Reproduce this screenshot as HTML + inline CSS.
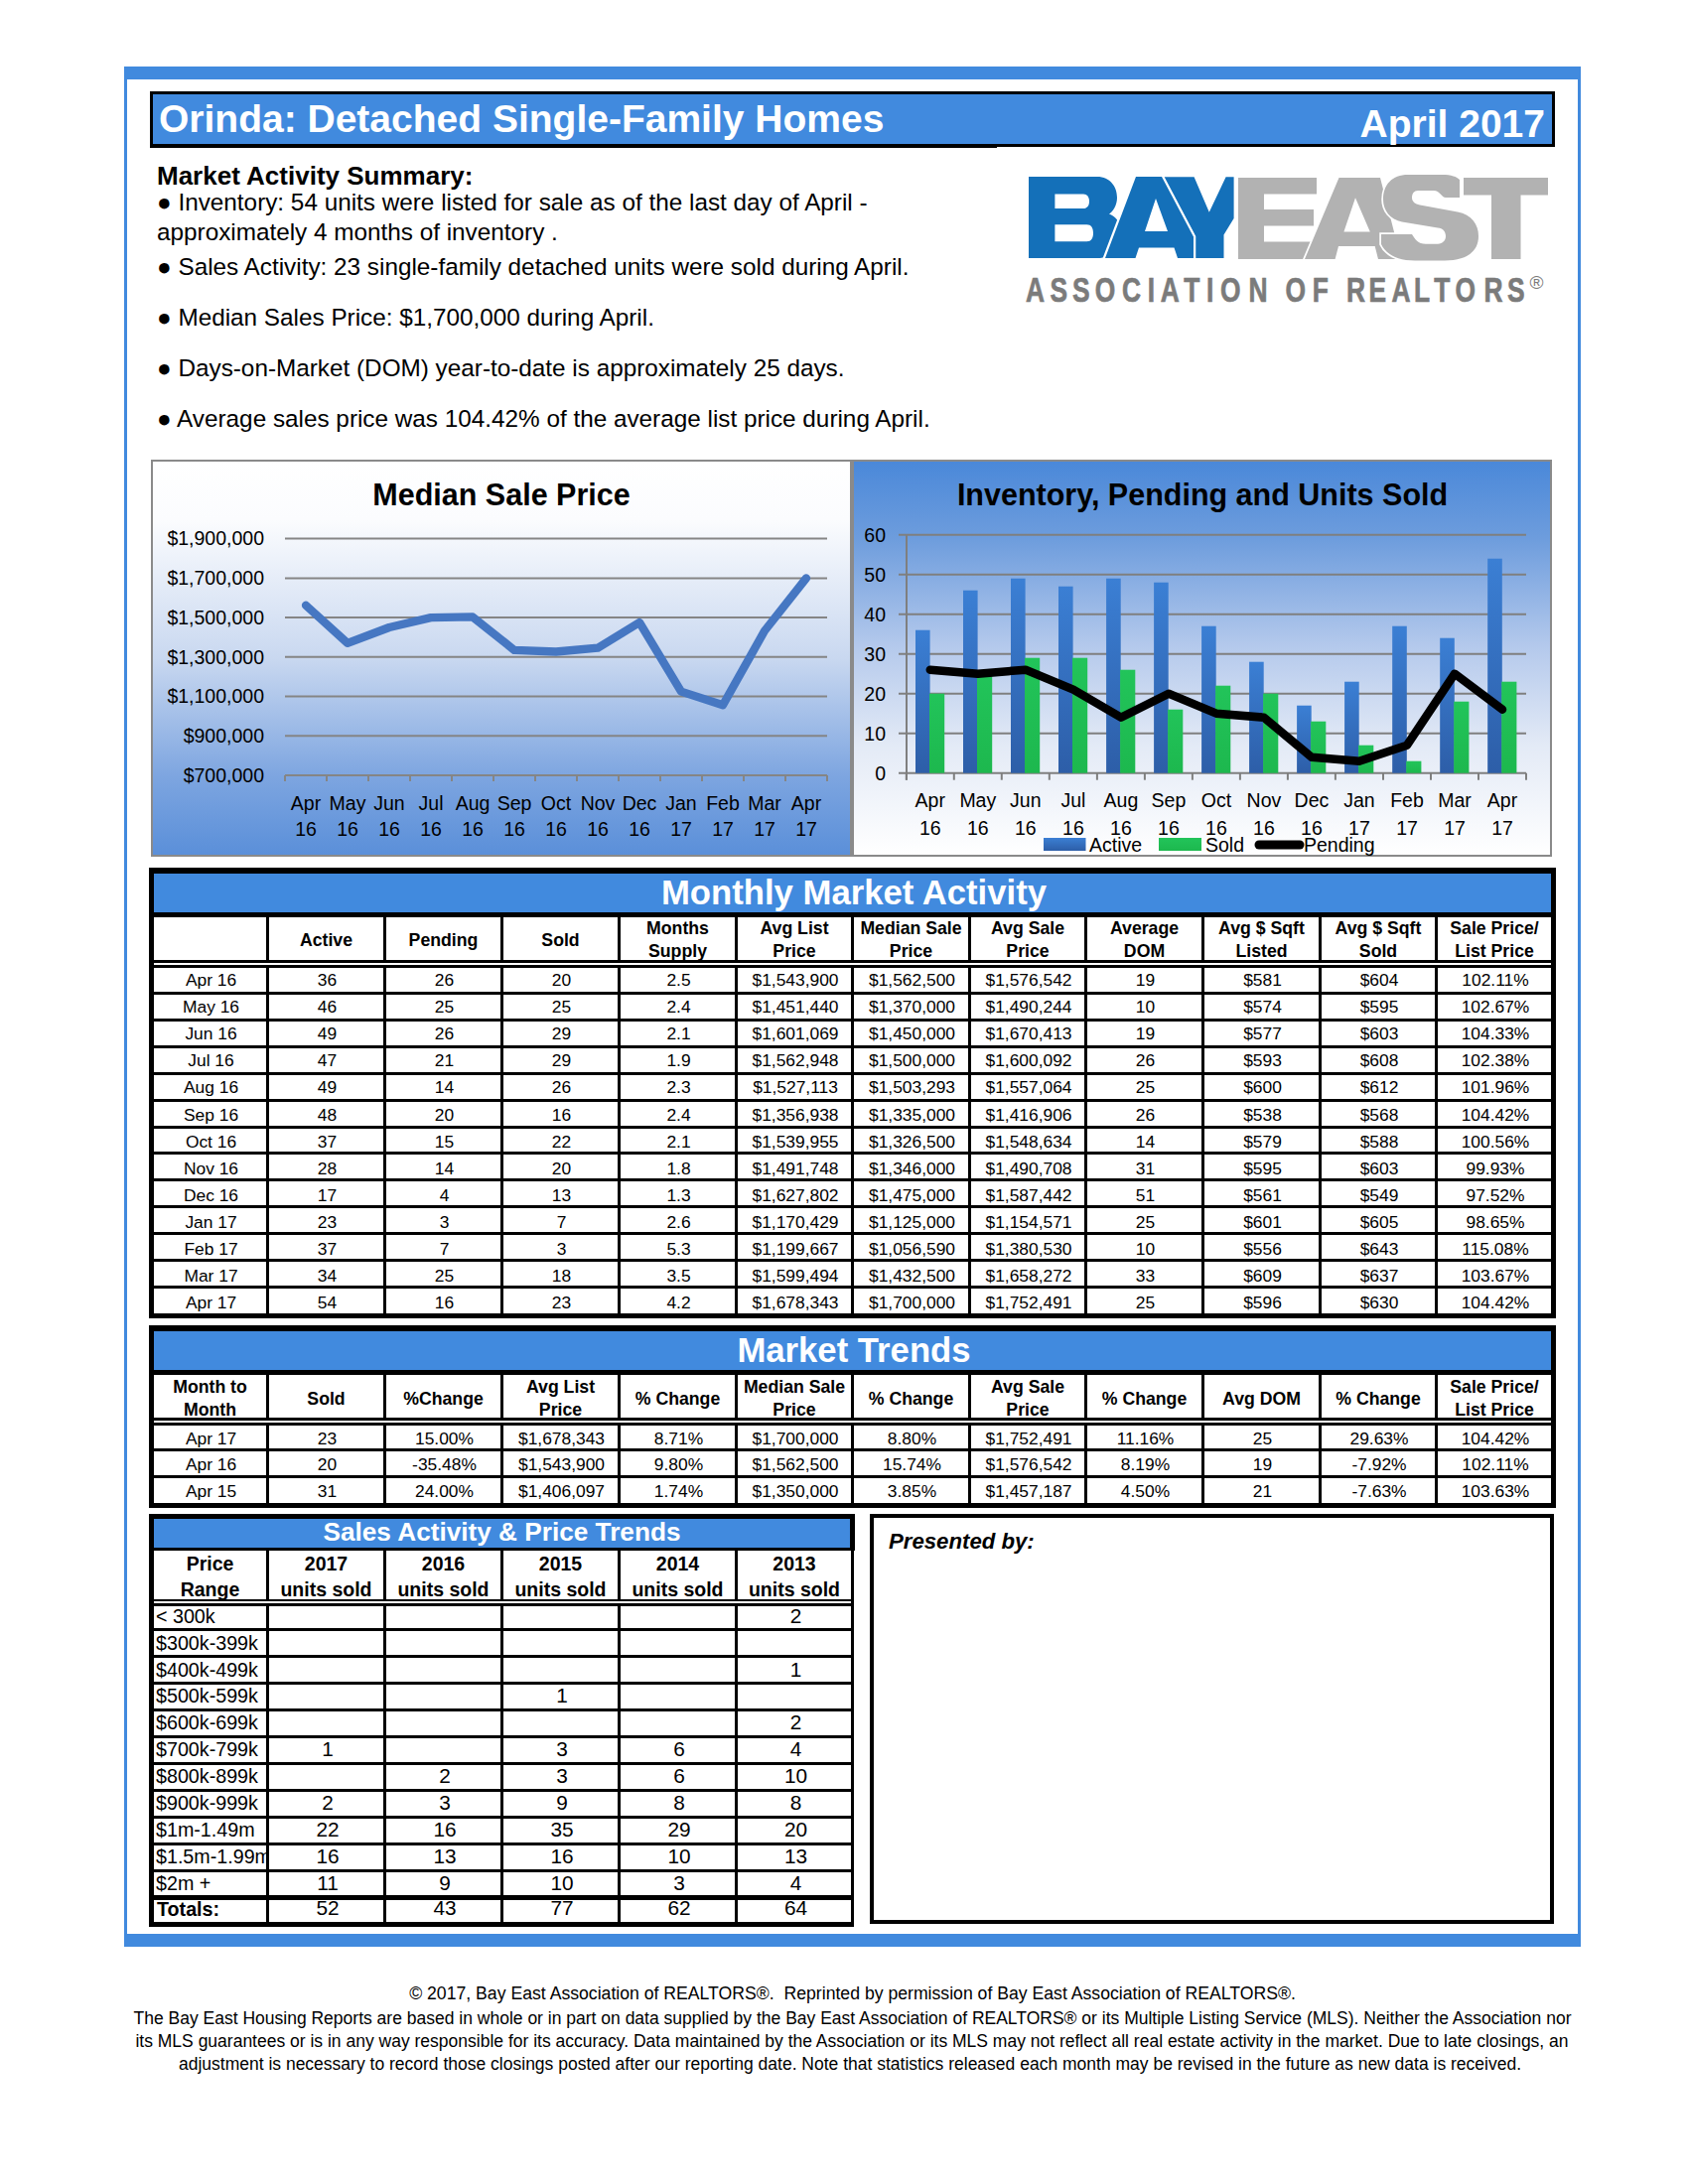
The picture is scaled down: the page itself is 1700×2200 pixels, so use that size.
<!DOCTYPE html><html><head><meta charset="utf-8"><title>Orinda: Detached Single-Family Homes - April 2017</title><style>html,body{margin:0;padding:0;background:#fff;}body{width:1700px;height:2200px;position:relative;overflow:hidden;font-family:"Liberation Sans",sans-serif;}</style></head><body>
<div style="position:absolute;left:125px;top:67px;width:1467px;height:13px;background:#418ade;"></div>
<div style="position:absolute;left:125px;top:1948px;width:1467px;height:13px;background:#418ade;"></div>
<div style="position:absolute;left:125px;top:67px;width:3px;height:1894px;background:#418ade;"></div>
<div style="position:absolute;left:1589px;top:67px;width:3px;height:1894px;background:#418ade;"></div>
<div style="position:absolute;left:151px;top:92px;width:1415px;height:56px;background:#000;"></div>
<div style="position:absolute;left:151px;top:145px;width:853px;height:4px;background:#000;"></div>
<div style="position:absolute;left:154px;top:95px;width:1409px;height:50px;background:#418ade;"></div>
<div style="position:absolute;left:160px;top:98.20px;font:normal bold 39px/44.811px 'Liberation Sans', sans-serif;color:#fff;white-space:pre;">Orinda: Detached Single-Family Homes</div>
<div style="position:absolute;left:-444px;width:2000px;text-align:right;top:103.20px;font:normal bold 39px/44.811px 'Liberation Sans', sans-serif;color:#fff;white-space:pre;">April 2017</div>
<div style="position:absolute;left:158px;top:162.97px;font:normal bold 26px/29.874px 'Liberation Sans', sans-serif;color:#000;white-space:pre;">Market Activity Summary:</div>
<div style="position:absolute;left:158px;top:190.01px;font:normal normal 24.3px/27.921px 'Liberation Sans', sans-serif;color:#000;white-space:pre;">● Inventory: 54 units were listed for sale as of the last day of April -</div>
<div style="position:absolute;left:158px;top:220.01px;font:normal normal 24.3px/27.921px 'Liberation Sans', sans-serif;color:#000;white-space:pre;">approximately 4 months of inventory .</div>
<div style="position:absolute;left:158px;top:255.01px;font:normal normal 24.3px/27.921px 'Liberation Sans', sans-serif;color:#000;white-space:pre;">● Sales Activity: 23 single-family detached units were sold during April.</div>
<div style="position:absolute;left:158px;top:306.01px;font:normal normal 24.3px/27.921px 'Liberation Sans', sans-serif;color:#000;white-space:pre;">● Median Sales Price: $1,700,000 during April.</div>
<div style="position:absolute;left:158px;top:357.01px;font:normal normal 24.3px/27.921px 'Liberation Sans', sans-serif;color:#000;white-space:pre;">● Days-on-Market (DOM) year-to-date is approximately 25 days.</div>
<div style="position:absolute;left:158px;top:408.01px;font:normal normal 24.3px/27.921px 'Liberation Sans', sans-serif;color:#000;white-space:pre;">● Average sales price was 104.42% of the average list price during April.</div>
<svg style="position:absolute;left:0;top:0" width="1700" height="320" viewBox="0 0 1700 320">
<path fill="#1470b9" fill-rule="evenodd" d="M1036,178 H1105 C1118,178 1125,188 1125,199 C1125,207 1121,213 1117,215.5 C1123,218 1128,223 1128,230 V243 C1128,254 1119,260 1105,260 H1036 Z M1062.4,195.4 H1091 C1095,195.4 1097,198.5 1097,202.7 C1097,207 1095,210 1091,210 H1062.4 Z M1062.4,226.2 H1094.5 C1099,226.2 1101,229.5 1101,234.7 C1101,240 1099,243.2 1094.5,243.2 H1062.4 Z"/>
<path fill="#1470b9" d="M1172,178.3 H1202.6 L1217.8,213.7 L1234.6,178.3 H1242.6 V220.1 L1232.5,236.6 V260 H1204 V238.5 Z"/>
<path fill="#1470b9" fill-rule="evenodd" stroke="#fff" stroke-width="4.5" paint-order="stroke" d="M1113,260 L1144,178 L1170,178 L1202,238.5 L1202,260 L1186,260 L1182.5,249.5 L1147,249.5 L1143.5,260 Z M1164,200 L1153,233 L1176,233 Z"/>
<path fill="#b2b2b2" d="M1247,179 H1326 V195.5 H1273 V211 H1323 V227.5 H1273 V243.5 H1330 V261 H1247 Z"/>
<path fill="#b2b2b2" fill-rule="evenodd" stroke="#fff" stroke-width="3.5" paint-order="stroke" d="M1314,261 L1348.5,179 L1390,179 L1411,261 L1388,261 L1384.7,248 L1348,248 L1344.6,261 Z M1365,199.3 L1353.4,233.5 L1379.8,233.5 Z"/>
<path fill="#b2b2b2" fill-rule="evenodd" stroke="#fff" stroke-width="3.5" paint-order="stroke" d="M1418,176 H1452 C1462,176 1467,178 1470,181 V199 H1456 C1452,199 1450,192 1444,192 H1428 C1424,192 1422,195 1422,199 C1422,203 1425,205.5 1430,206.5 L1468,213.5 C1482,216 1489,226 1489,238 C1489,254 1476,262.5 1455,262.5 H1425 C1406,262.5 1395,255 1391,246 V236 H1422 C1425,241 1428,245.7 1436,245.7 H1448 C1453,245.7 1456,242 1456,238 C1456,233 1453,230 1448,229.5 L1412,223.5 C1400,221 1393,212 1393,201 C1393,186 1402,176 1418,176 Z"/>
<path fill="#b2b2b2" d="M1474,179 H1559 V196.5 H1531.5 V261 H1502 V196.5 H1474 Z"/>
<text transform="translate(1042.4,303.5) scale(0.76,1)" text-anchor="middle" font-family="Liberation Sans" font-weight="bold" font-size="34.7" fill="#7b7b7b" stroke="#7b7b7b" stroke-width="0.7">A</text>
<text transform="translate(1066.2,303.5) scale(0.76,1)" text-anchor="middle" font-family="Liberation Sans" font-weight="bold" font-size="34.7" fill="#7b7b7b" stroke="#7b7b7b" stroke-width="0.7">S</text>
<text transform="translate(1088.9,303.5) scale(0.76,1)" text-anchor="middle" font-family="Liberation Sans" font-weight="bold" font-size="34.7" fill="#7b7b7b" stroke="#7b7b7b" stroke-width="0.7">S</text>
<text transform="translate(1112.9,303.5) scale(0.76,1)" text-anchor="middle" font-family="Liberation Sans" font-weight="bold" font-size="34.7" fill="#7b7b7b" stroke="#7b7b7b" stroke-width="0.7">O</text>
<text transform="translate(1139.5,303.5) scale(0.76,1)" text-anchor="middle" font-family="Liberation Sans" font-weight="bold" font-size="34.7" fill="#7b7b7b" stroke="#7b7b7b" stroke-width="0.7">C</text>
<text transform="translate(1159.5,303.5) scale(0.76,1)" text-anchor="middle" font-family="Liberation Sans" font-weight="bold" font-size="34.7" fill="#7b7b7b" stroke="#7b7b7b" stroke-width="0.7">I</text>
<text transform="translate(1178.2,303.5) scale(0.76,1)" text-anchor="middle" font-family="Liberation Sans" font-weight="bold" font-size="34.7" fill="#7b7b7b" stroke="#7b7b7b" stroke-width="0.7">A</text>
<text transform="translate(1200.2,303.5) scale(0.76,1)" text-anchor="middle" font-family="Liberation Sans" font-weight="bold" font-size="34.7" fill="#7b7b7b" stroke="#7b7b7b" stroke-width="0.7">T</text>
<text transform="translate(1218.7,303.5) scale(0.76,1)" text-anchor="middle" font-family="Liberation Sans" font-weight="bold" font-size="34.7" fill="#7b7b7b" stroke="#7b7b7b" stroke-width="0.7">I</text>
<text transform="translate(1239.3,303.5) scale(0.76,1)" text-anchor="middle" font-family="Liberation Sans" font-weight="bold" font-size="34.7" fill="#7b7b7b" stroke="#7b7b7b" stroke-width="0.7">O</text>
<text transform="translate(1267,303.5) scale(0.76,1)" text-anchor="middle" font-family="Liberation Sans" font-weight="bold" font-size="34.7" fill="#7b7b7b" stroke="#7b7b7b" stroke-width="0.7">N</text>
<text transform="translate(1304.7,303.5) scale(0.76,1)" text-anchor="middle" font-family="Liberation Sans" font-weight="bold" font-size="34.7" fill="#7b7b7b" stroke="#7b7b7b" stroke-width="0.7">O</text>
<text transform="translate(1329.9,303.5) scale(0.76,1)" text-anchor="middle" font-family="Liberation Sans" font-weight="bold" font-size="34.7" fill="#7b7b7b" stroke="#7b7b7b" stroke-width="0.7">F</text>
<text transform="translate(1365.4,303.5) scale(0.76,1)" text-anchor="middle" font-family="Liberation Sans" font-weight="bold" font-size="34.7" fill="#7b7b7b" stroke="#7b7b7b" stroke-width="0.7">R</text>
<text transform="translate(1387.4,303.5) scale(0.76,1)" text-anchor="middle" font-family="Liberation Sans" font-weight="bold" font-size="34.7" fill="#7b7b7b" stroke="#7b7b7b" stroke-width="0.7">E</text>
<text transform="translate(1411,303.5) scale(0.76,1)" text-anchor="middle" font-family="Liberation Sans" font-weight="bold" font-size="34.7" fill="#7b7b7b" stroke="#7b7b7b" stroke-width="0.7">A</text>
<text transform="translate(1432.1,303.5) scale(0.76,1)" text-anchor="middle" font-family="Liberation Sans" font-weight="bold" font-size="34.7" fill="#7b7b7b" stroke="#7b7b7b" stroke-width="0.7">L</text>
<text transform="translate(1452.2,303.5) scale(0.76,1)" text-anchor="middle" font-family="Liberation Sans" font-weight="bold" font-size="34.7" fill="#7b7b7b" stroke="#7b7b7b" stroke-width="0.7">T</text>
<text transform="translate(1475.8,303.5) scale(0.76,1)" text-anchor="middle" font-family="Liberation Sans" font-weight="bold" font-size="34.7" fill="#7b7b7b" stroke="#7b7b7b" stroke-width="0.7">O</text>
<text transform="translate(1503.9,303.5) scale(0.76,1)" text-anchor="middle" font-family="Liberation Sans" font-weight="bold" font-size="34.7" fill="#7b7b7b" stroke="#7b7b7b" stroke-width="0.7">R</text>
<text transform="translate(1526.7,303.5) scale(0.76,1)" text-anchor="middle" font-family="Liberation Sans" font-weight="bold" font-size="34.7" fill="#7b7b7b" stroke="#7b7b7b" stroke-width="0.7">S</text>
<text x="1547.5" y="291" text-anchor="middle" font-family="Liberation Sans" font-size="19" fill="#7b7b7b">®</text>
</svg>
<svg style="position:absolute;left:0;top:0" width="1700" height="880" viewBox="0 0 1700 880">
<defs><linearGradient id="g1" x1="0" y1="0" x2="0" y2="1"><stop offset="0" stop-color="#ffffff"/><stop offset="0.15" stop-color="#fbfcfe"/><stop offset="0.5" stop-color="#c9d8f0"/><stop offset="0.8" stop-color="#7da5e0"/><stop offset="1" stop-color="#5a8fd9"/></linearGradient><linearGradient id="g2" x1="0" y1="0" x2="0" y2="1"><stop offset="0" stop-color="#4a88d9"/><stop offset="0.2" stop-color="#6e9ddd"/><stop offset="0.47" stop-color="#b4c9ec"/><stop offset="0.72" stop-color="#e3eaf6"/><stop offset="1" stop-color="#ffffff"/></linearGradient><linearGradient id="ga" x1="0" y1="0" x2="0" y2="1"><stop offset="0" stop-color="#3b7fd4"/><stop offset="1" stop-color="#2d5ea8"/></linearGradient><linearGradient id="gs" x1="0" y1="0" x2="0" y2="1"><stop offset="0" stop-color="#22c45a"/><stop offset="1" stop-color="#1db84e"/></linearGradient></defs>
<rect x="153" y="464" width="704" height="398" fill="url(#g1)" stroke="#8a8a8a" stroke-width="2"/>
<rect x="859" y="464" width="703" height="398" fill="url(#g2)" stroke="#8a8a8a" stroke-width="2"/>
<line x1="287" y1="781.0" x2="833" y2="781.0" stroke="#858585" stroke-width="2"/>
<text x="266" y="787.8" text-anchor="end" font-family="Liberation Sans" font-size="19.5" fill="#000">$700,000</text>
<line x1="287" y1="741.3" x2="833" y2="741.3" stroke="#858585" stroke-width="2"/>
<text x="266" y="748.1" text-anchor="end" font-family="Liberation Sans" font-size="19.5" fill="#000">$900,000</text>
<line x1="287" y1="701.5" x2="833" y2="701.5" stroke="#858585" stroke-width="2"/>
<text x="266" y="708.3" text-anchor="end" font-family="Liberation Sans" font-size="19.5" fill="#000">$1,100,000</text>
<line x1="287" y1="661.8" x2="833" y2="661.8" stroke="#858585" stroke-width="2"/>
<text x="266" y="668.6" text-anchor="end" font-family="Liberation Sans" font-size="19.5" fill="#000">$1,300,000</text>
<line x1="287" y1="622.1" x2="833" y2="622.1" stroke="#858585" stroke-width="2"/>
<text x="266" y="628.9" text-anchor="end" font-family="Liberation Sans" font-size="19.5" fill="#000">$1,500,000</text>
<line x1="287" y1="582.4" x2="833" y2="582.4" stroke="#858585" stroke-width="2"/>
<text x="266" y="589.1" text-anchor="end" font-family="Liberation Sans" font-size="19.5" fill="#000">$1,700,000</text>
<line x1="287" y1="542.6" x2="833" y2="542.6" stroke="#858585" stroke-width="2"/>
<text x="266" y="549.4" text-anchor="end" font-family="Liberation Sans" font-size="19.5" fill="#000">$1,900,000</text>
<line x1="287.0" y1="781.0" x2="287.0" y2="787.0" stroke="#858585" stroke-width="2"/>
<line x1="329.0" y1="781.0" x2="329.0" y2="787.0" stroke="#858585" stroke-width="2"/>
<line x1="371.0" y1="781.0" x2="371.0" y2="787.0" stroke="#858585" stroke-width="2"/>
<line x1="413.0" y1="781.0" x2="413.0" y2="787.0" stroke="#858585" stroke-width="2"/>
<line x1="455.0" y1="781.0" x2="455.0" y2="787.0" stroke="#858585" stroke-width="2"/>
<line x1="497.0" y1="781.0" x2="497.0" y2="787.0" stroke="#858585" stroke-width="2"/>
<line x1="539.0" y1="781.0" x2="539.0" y2="787.0" stroke="#858585" stroke-width="2"/>
<line x1="581.0" y1="781.0" x2="581.0" y2="787.0" stroke="#858585" stroke-width="2"/>
<line x1="623.0" y1="781.0" x2="623.0" y2="787.0" stroke="#858585" stroke-width="2"/>
<line x1="665.0" y1="781.0" x2="665.0" y2="787.0" stroke="#858585" stroke-width="2"/>
<line x1="707.0" y1="781.0" x2="707.0" y2="787.0" stroke="#858585" stroke-width="2"/>
<line x1="749.0" y1="781.0" x2="749.0" y2="787.0" stroke="#858585" stroke-width="2"/>
<line x1="791.0" y1="781.0" x2="791.0" y2="787.0" stroke="#858585" stroke-width="2"/>
<line x1="833.0" y1="781.0" x2="833.0" y2="787.0" stroke="#858585" stroke-width="2"/>
<text x="308.0" y="815.5" text-anchor="middle" font-family="Liberation Sans" font-size="19.5" fill="#000">Apr</text>
<text x="308.0" y="842" text-anchor="middle" font-family="Liberation Sans" font-size="19.5" fill="#000">16</text>
<text x="350.0" y="815.5" text-anchor="middle" font-family="Liberation Sans" font-size="19.5" fill="#000">May</text>
<text x="350.0" y="842" text-anchor="middle" font-family="Liberation Sans" font-size="19.5" fill="#000">16</text>
<text x="392.0" y="815.5" text-anchor="middle" font-family="Liberation Sans" font-size="19.5" fill="#000">Jun</text>
<text x="392.0" y="842" text-anchor="middle" font-family="Liberation Sans" font-size="19.5" fill="#000">16</text>
<text x="434.0" y="815.5" text-anchor="middle" font-family="Liberation Sans" font-size="19.5" fill="#000">Jul</text>
<text x="434.0" y="842" text-anchor="middle" font-family="Liberation Sans" font-size="19.5" fill="#000">16</text>
<text x="476.0" y="815.5" text-anchor="middle" font-family="Liberation Sans" font-size="19.5" fill="#000">Aug</text>
<text x="476.0" y="842" text-anchor="middle" font-family="Liberation Sans" font-size="19.5" fill="#000">16</text>
<text x="518.0" y="815.5" text-anchor="middle" font-family="Liberation Sans" font-size="19.5" fill="#000">Sep</text>
<text x="518.0" y="842" text-anchor="middle" font-family="Liberation Sans" font-size="19.5" fill="#000">16</text>
<text x="560.0" y="815.5" text-anchor="middle" font-family="Liberation Sans" font-size="19.5" fill="#000">Oct</text>
<text x="560.0" y="842" text-anchor="middle" font-family="Liberation Sans" font-size="19.5" fill="#000">16</text>
<text x="602.0" y="815.5" text-anchor="middle" font-family="Liberation Sans" font-size="19.5" fill="#000">Nov</text>
<text x="602.0" y="842" text-anchor="middle" font-family="Liberation Sans" font-size="19.5" fill="#000">16</text>
<text x="644.0" y="815.5" text-anchor="middle" font-family="Liberation Sans" font-size="19.5" fill="#000">Dec</text>
<text x="644.0" y="842" text-anchor="middle" font-family="Liberation Sans" font-size="19.5" fill="#000">16</text>
<text x="686.0" y="815.5" text-anchor="middle" font-family="Liberation Sans" font-size="19.5" fill="#000">Jan</text>
<text x="686.0" y="842" text-anchor="middle" font-family="Liberation Sans" font-size="19.5" fill="#000">17</text>
<text x="728.0" y="815.5" text-anchor="middle" font-family="Liberation Sans" font-size="19.5" fill="#000">Feb</text>
<text x="728.0" y="842" text-anchor="middle" font-family="Liberation Sans" font-size="19.5" fill="#000">17</text>
<text x="770.0" y="815.5" text-anchor="middle" font-family="Liberation Sans" font-size="19.5" fill="#000">Mar</text>
<text x="770.0" y="842" text-anchor="middle" font-family="Liberation Sans" font-size="19.5" fill="#000">17</text>
<text x="812.0" y="815.5" text-anchor="middle" font-family="Liberation Sans" font-size="19.5" fill="#000">Apr</text>
<text x="812.0" y="842" text-anchor="middle" font-family="Liberation Sans" font-size="19.5" fill="#000">17</text>
<polyline points="308.0,609.7 350.0,647.9 392.0,632.0 434.0,622.1 476.0,621.4 518.0,654.9 560.0,656.5 602.0,652.7 644.0,627.0 686.0,696.6 728.0,710.2 770.0,635.5 812.0,582.4" fill="none" stroke="#4677c2" stroke-width="8.3" stroke-linejoin="round" stroke-linecap="round"/>
<text x="505" y="509" text-anchor="middle" font-family="Liberation Sans" font-weight="bold" font-size="30.5" fill="#000">Median Sale Price</text>
<line x1="905" y1="778.7" x2="1537" y2="778.7" stroke="#7f7f7f" stroke-width="2"/>
<text x="892" y="785.5" text-anchor="end" font-family="Liberation Sans" font-size="19.5" fill="#000">0</text>
<line x1="905" y1="738.7" x2="1537" y2="738.7" stroke="#7f7f7f" stroke-width="2"/>
<text x="892" y="745.5" text-anchor="end" font-family="Liberation Sans" font-size="19.5" fill="#000">10</text>
<line x1="905" y1="698.7" x2="1537" y2="698.7" stroke="#7f7f7f" stroke-width="2"/>
<text x="892" y="705.5" text-anchor="end" font-family="Liberation Sans" font-size="19.5" fill="#000">20</text>
<line x1="905" y1="658.7" x2="1537" y2="658.7" stroke="#7f7f7f" stroke-width="2"/>
<text x="892" y="665.5" text-anchor="end" font-family="Liberation Sans" font-size="19.5" fill="#000">30</text>
<line x1="905" y1="618.7" x2="1537" y2="618.7" stroke="#7f7f7f" stroke-width="2"/>
<text x="892" y="625.5" text-anchor="end" font-family="Liberation Sans" font-size="19.5" fill="#000">40</text>
<line x1="905" y1="578.7" x2="1537" y2="578.7" stroke="#7f7f7f" stroke-width="2"/>
<text x="892" y="585.5" text-anchor="end" font-family="Liberation Sans" font-size="19.5" fill="#000">50</text>
<line x1="905" y1="538.7" x2="1537" y2="538.7" stroke="#7f7f7f" stroke-width="2"/>
<text x="892" y="545.5" text-anchor="end" font-family="Liberation Sans" font-size="19.5" fill="#000">60</text>
<line x1="913" y1="538" x2="913" y2="785.7" stroke="#7f7f7f" stroke-width="2"/>
<line x1="912.8" y1="778.7" x2="912.8" y2="785.7" stroke="#7f7f7f" stroke-width="2"/>
<line x1="960.8" y1="778.7" x2="960.8" y2="785.7" stroke="#7f7f7f" stroke-width="2"/>
<line x1="1008.8" y1="778.7" x2="1008.8" y2="785.7" stroke="#7f7f7f" stroke-width="2"/>
<line x1="1056.8" y1="778.7" x2="1056.8" y2="785.7" stroke="#7f7f7f" stroke-width="2"/>
<line x1="1104.9" y1="778.7" x2="1104.9" y2="785.7" stroke="#7f7f7f" stroke-width="2"/>
<line x1="1152.9" y1="778.7" x2="1152.9" y2="785.7" stroke="#7f7f7f" stroke-width="2"/>
<line x1="1200.9" y1="778.7" x2="1200.9" y2="785.7" stroke="#7f7f7f" stroke-width="2"/>
<line x1="1248.9" y1="778.7" x2="1248.9" y2="785.7" stroke="#7f7f7f" stroke-width="2"/>
<line x1="1296.9" y1="778.7" x2="1296.9" y2="785.7" stroke="#7f7f7f" stroke-width="2"/>
<line x1="1344.9" y1="778.7" x2="1344.9" y2="785.7" stroke="#7f7f7f" stroke-width="2"/>
<line x1="1393.0" y1="778.7" x2="1393.0" y2="785.7" stroke="#7f7f7f" stroke-width="2"/>
<line x1="1441.0" y1="778.7" x2="1441.0" y2="785.7" stroke="#7f7f7f" stroke-width="2"/>
<line x1="1489.0" y1="778.7" x2="1489.0" y2="785.7" stroke="#7f7f7f" stroke-width="2"/>
<line x1="1537.0" y1="778.7" x2="1537.0" y2="785.7" stroke="#7f7f7f" stroke-width="2"/>
<rect x="922.0" y="634.7" width="14.6" height="144.0" fill="url(#ga)"/>
<rect x="936.0" y="698.7" width="15.2" height="80.0" fill="url(#gs)"/>
<text x="936.8" y="813" text-anchor="middle" font-family="Liberation Sans" font-size="19.5" fill="#000">Apr</text>
<text x="936.8" y="840.5" text-anchor="middle" font-family="Liberation Sans" font-size="19.5" fill="#000">16</text>
<rect x="970.0" y="594.7" width="14.6" height="184.0" fill="url(#ga)"/>
<rect x="984.0" y="678.7" width="15.2" height="100.0" fill="url(#gs)"/>
<text x="984.8" y="813" text-anchor="middle" font-family="Liberation Sans" font-size="19.5" fill="#000">May</text>
<text x="984.8" y="840.5" text-anchor="middle" font-family="Liberation Sans" font-size="19.5" fill="#000">16</text>
<rect x="1018.0" y="582.7" width="14.6" height="196.0" fill="url(#ga)"/>
<rect x="1032.0" y="662.7" width="15.2" height="116.0" fill="url(#gs)"/>
<text x="1032.8" y="813" text-anchor="middle" font-family="Liberation Sans" font-size="19.5" fill="#000">Jun</text>
<text x="1032.8" y="840.5" text-anchor="middle" font-family="Liberation Sans" font-size="19.5" fill="#000">16</text>
<rect x="1066.0" y="590.7" width="14.6" height="188.0" fill="url(#ga)"/>
<rect x="1080.0" y="662.7" width="15.2" height="116.0" fill="url(#gs)"/>
<text x="1080.9" y="813" text-anchor="middle" font-family="Liberation Sans" font-size="19.5" fill="#000">Jul</text>
<text x="1080.9" y="840.5" text-anchor="middle" font-family="Liberation Sans" font-size="19.5" fill="#000">16</text>
<rect x="1114.1" y="582.7" width="14.6" height="196.0" fill="url(#ga)"/>
<rect x="1128.1" y="674.7" width="15.2" height="104.0" fill="url(#gs)"/>
<text x="1128.9" y="813" text-anchor="middle" font-family="Liberation Sans" font-size="19.5" fill="#000">Aug</text>
<text x="1128.9" y="840.5" text-anchor="middle" font-family="Liberation Sans" font-size="19.5" fill="#000">16</text>
<rect x="1162.1" y="586.7" width="14.6" height="192.0" fill="url(#ga)"/>
<rect x="1176.1" y="714.7" width="15.2" height="64.0" fill="url(#gs)"/>
<text x="1176.9" y="813" text-anchor="middle" font-family="Liberation Sans" font-size="19.5" fill="#000">Sep</text>
<text x="1176.9" y="840.5" text-anchor="middle" font-family="Liberation Sans" font-size="19.5" fill="#000">16</text>
<rect x="1210.1" y="630.7" width="14.6" height="148.0" fill="url(#ga)"/>
<rect x="1224.1" y="690.7" width="15.2" height="88.0" fill="url(#gs)"/>
<text x="1224.9" y="813" text-anchor="middle" font-family="Liberation Sans" font-size="19.5" fill="#000">Oct</text>
<text x="1224.9" y="840.5" text-anchor="middle" font-family="Liberation Sans" font-size="19.5" fill="#000">16</text>
<rect x="1258.1" y="666.7" width="14.6" height="112.0" fill="url(#ga)"/>
<rect x="1272.1" y="698.7" width="15.2" height="80.0" fill="url(#gs)"/>
<text x="1272.9" y="813" text-anchor="middle" font-family="Liberation Sans" font-size="19.5" fill="#000">Nov</text>
<text x="1272.9" y="840.5" text-anchor="middle" font-family="Liberation Sans" font-size="19.5" fill="#000">16</text>
<rect x="1306.1" y="710.7" width="14.6" height="68.0" fill="url(#ga)"/>
<rect x="1320.1" y="726.7" width="15.2" height="52.0" fill="url(#gs)"/>
<text x="1320.9" y="813" text-anchor="middle" font-family="Liberation Sans" font-size="19.5" fill="#000">Dec</text>
<text x="1320.9" y="840.5" text-anchor="middle" font-family="Liberation Sans" font-size="19.5" fill="#000">16</text>
<rect x="1354.1" y="686.7" width="14.6" height="92.0" fill="url(#ga)"/>
<rect x="1368.1" y="750.7" width="15.2" height="28.0" fill="url(#gs)"/>
<text x="1368.9" y="813" text-anchor="middle" font-family="Liberation Sans" font-size="19.5" fill="#000">Jan</text>
<text x="1368.9" y="840.5" text-anchor="middle" font-family="Liberation Sans" font-size="19.5" fill="#000">17</text>
<rect x="1402.2" y="630.7" width="14.6" height="148.0" fill="url(#ga)"/>
<rect x="1416.2" y="766.7" width="15.2" height="12.0" fill="url(#gs)"/>
<text x="1417.0" y="813" text-anchor="middle" font-family="Liberation Sans" font-size="19.5" fill="#000">Feb</text>
<text x="1417.0" y="840.5" text-anchor="middle" font-family="Liberation Sans" font-size="19.5" fill="#000">17</text>
<rect x="1450.2" y="642.7" width="14.6" height="136.0" fill="url(#ga)"/>
<rect x="1464.2" y="706.7" width="15.2" height="72.0" fill="url(#gs)"/>
<text x="1465.0" y="813" text-anchor="middle" font-family="Liberation Sans" font-size="19.5" fill="#000">Mar</text>
<text x="1465.0" y="840.5" text-anchor="middle" font-family="Liberation Sans" font-size="19.5" fill="#000">17</text>
<rect x="1498.2" y="562.7" width="14.6" height="216.0" fill="url(#ga)"/>
<rect x="1512.2" y="686.7" width="15.2" height="92.0" fill="url(#gs)"/>
<text x="1513.0" y="813" text-anchor="middle" font-family="Liberation Sans" font-size="19.5" fill="#000">Apr</text>
<text x="1513.0" y="840.5" text-anchor="middle" font-family="Liberation Sans" font-size="19.5" fill="#000">17</text>
<polyline points="936.8,674.7 984.8,678.7 1032.8,674.7 1080.9,694.7 1128.9,722.7 1176.9,698.7 1224.9,718.7 1272.9,722.7 1320.9,762.7 1368.9,766.7 1417.0,750.7 1465.0,678.7 1513.0,714.7" fill="none" stroke="#000" stroke-width="8.5" stroke-linejoin="round" stroke-linecap="round"/>
<text x="1211" y="508.5" text-anchor="middle" font-family="Liberation Sans" font-weight="bold" font-size="30.5" fill="#000">Inventory, Pending and Units Sold</text>
<rect x="1051" y="844" width="42.5" height="13" fill="url(#ga)"/>
<text x="1097" y="858" font-family="Liberation Sans" font-size="19.5" fill="#000">Active</text>
<rect x="1167" y="844" width="43" height="13" fill="url(#gs)"/>
<text x="1214" y="858" font-family="Liberation Sans" font-size="19.5" fill="#000">Sold</text>
<line x1="1268" y1="851" x2="1309" y2="851" stroke="#000" stroke-width="9" stroke-linecap="round"/>
<text x="1313" y="858" font-family="Liberation Sans" font-size="19.5" fill="#000">Pending</text>
</svg>
<div style="position:absolute;left:150px;top:874px;width:1417px;height:454px;background:#000;"></div>
<div style="position:absolute;left:155px;top:880px;width:1407px;height:39px;background:#418ade;"></div>
<div style="position:absolute;left:-140px;width:2000px;text-align:center;top:879.60px;font:normal bold 34.7px/39.870px 'Liberation Sans', sans-serif;color:#fff;white-space:pre;">Monthly Market Activity</div>
<div style="position:absolute;left:155px;top:924px;width:113px;height:43px;background:#fff;"></div>
<div style="position:absolute;left:-788.5px;width:2000px;text-align:center;top:924.98px;font:normal bold 17.7px/20.337px 'Liberation Sans', sans-serif;color:#000;white-space:pre;"></div>
<div style="position:absolute;left:-788.5px;width:2000px;text-align:center;top:948.28px;font:normal bold 17.7px/20.337px 'Liberation Sans', sans-serif;color:#000;white-space:pre;"></div>
<div style="position:absolute;left:271px;top:924px;width:115px;height:43px;background:#fff;"></div>
<div style="position:absolute;left:-671.5px;width:2000px;text-align:center;top:936.98px;font:normal bold 17.7px/20.337px 'Liberation Sans', sans-serif;color:#000;white-space:pre;">Active</div>
<div style="position:absolute;left:389px;top:924px;width:115px;height:43px;background:#fff;"></div>
<div style="position:absolute;left:-553.5px;width:2000px;text-align:center;top:936.98px;font:normal bold 17.7px/20.337px 'Liberation Sans', sans-serif;color:#000;white-space:pre;">Pending</div>
<div style="position:absolute;left:507px;top:924px;width:115px;height:43px;background:#fff;"></div>
<div style="position:absolute;left:-435.5px;width:2000px;text-align:center;top:936.98px;font:normal bold 17.7px/20.337px 'Liberation Sans', sans-serif;color:#000;white-space:pre;">Sold</div>
<div style="position:absolute;left:625px;top:924px;width:115px;height:43px;background:#fff;"></div>
<div style="position:absolute;left:-317.5px;width:2000px;text-align:center;top:924.98px;font:normal bold 17.7px/20.337px 'Liberation Sans', sans-serif;color:#000;white-space:pre;">Months</div>
<div style="position:absolute;left:-317.5px;width:2000px;text-align:center;top:948.28px;font:normal bold 17.7px/20.337px 'Liberation Sans', sans-serif;color:#000;white-space:pre;">Supply</div>
<div style="position:absolute;left:743px;top:924px;width:114px;height:43px;background:#fff;"></div>
<div style="position:absolute;left:-200.0px;width:2000px;text-align:center;top:924.98px;font:normal bold 17.7px/20.337px 'Liberation Sans', sans-serif;color:#000;white-space:pre;">Avg List</div>
<div style="position:absolute;left:-200.0px;width:2000px;text-align:center;top:948.28px;font:normal bold 17.7px/20.337px 'Liberation Sans', sans-serif;color:#000;white-space:pre;">Price</div>
<div style="position:absolute;left:860px;top:924px;width:115px;height:43px;background:#fff;"></div>
<div style="position:absolute;left:-82.5px;width:2000px;text-align:center;top:924.98px;font:normal bold 17.7px/20.337px 'Liberation Sans', sans-serif;color:#000;white-space:pre;">Median Sale</div>
<div style="position:absolute;left:-82.5px;width:2000px;text-align:center;top:948.28px;font:normal bold 17.7px/20.337px 'Liberation Sans', sans-serif;color:#000;white-space:pre;">Price</div>
<div style="position:absolute;left:978px;top:924px;width:114px;height:43px;background:#fff;"></div>
<div style="position:absolute;left:35.0px;width:2000px;text-align:center;top:924.98px;font:normal bold 17.7px/20.337px 'Liberation Sans', sans-serif;color:#000;white-space:pre;">Avg Sale</div>
<div style="position:absolute;left:35.0px;width:2000px;text-align:center;top:948.28px;font:normal bold 17.7px/20.337px 'Liberation Sans', sans-serif;color:#000;white-space:pre;">Price</div>
<div style="position:absolute;left:1095px;top:924px;width:115px;height:43px;background:#fff;"></div>
<div style="position:absolute;left:152.5px;width:2000px;text-align:center;top:924.98px;font:normal bold 17.7px/20.337px 'Liberation Sans', sans-serif;color:#000;white-space:pre;">Average</div>
<div style="position:absolute;left:152.5px;width:2000px;text-align:center;top:948.28px;font:normal bold 17.7px/20.337px 'Liberation Sans', sans-serif;color:#000;white-space:pre;">DOM</div>
<div style="position:absolute;left:1213px;top:924px;width:115px;height:43px;background:#fff;"></div>
<div style="position:absolute;left:270.5px;width:2000px;text-align:center;top:924.98px;font:normal bold 17.7px/20.337px 'Liberation Sans', sans-serif;color:#000;white-space:pre;">Avg $ Sqft</div>
<div style="position:absolute;left:270.5px;width:2000px;text-align:center;top:948.28px;font:normal bold 17.7px/20.337px 'Liberation Sans', sans-serif;color:#000;white-space:pre;">Listed</div>
<div style="position:absolute;left:1331px;top:924px;width:114px;height:43px;background:#fff;"></div>
<div style="position:absolute;left:388.0px;width:2000px;text-align:center;top:924.98px;font:normal bold 17.7px/20.337px 'Liberation Sans', sans-serif;color:#000;white-space:pre;">Avg $ Sqft</div>
<div style="position:absolute;left:388.0px;width:2000px;text-align:center;top:948.28px;font:normal bold 17.7px/20.337px 'Liberation Sans', sans-serif;color:#000;white-space:pre;">Sold</div>
<div style="position:absolute;left:1448px;top:924px;width:114px;height:43px;background:#fff;"></div>
<div style="position:absolute;left:505.0px;width:2000px;text-align:center;top:924.98px;font:normal bold 17.7px/20.337px 'Liberation Sans', sans-serif;color:#000;white-space:pre;">Sale Price/</div>
<div style="position:absolute;left:505.0px;width:2000px;text-align:center;top:948.28px;font:normal bold 17.7px/20.337px 'Liberation Sans', sans-serif;color:#000;white-space:pre;">List Price</div>
<div style="position:absolute;left:155px;top:970px;width:1407px;height:2px;background:#fff;"></div>
<div style="position:absolute;left:155px;top:975px;width:113px;height:24px;background:#fff;"></div>
<div style="position:absolute;left:-787.5px;width:2000px;text-align:center;top:977.15px;font:normal normal 17.4px/19.993px 'Liberation Sans', sans-serif;color:#000;white-space:pre;">Apr 16</div>
<div style="position:absolute;left:271px;top:975px;width:115px;height:24px;background:#fff;"></div>
<div style="position:absolute;left:-670.5px;width:2000px;text-align:center;top:977.15px;font:normal normal 17.4px/19.993px 'Liberation Sans', sans-serif;color:#000;white-space:pre;">36</div>
<div style="position:absolute;left:389px;top:975px;width:115px;height:24px;background:#fff;"></div>
<div style="position:absolute;left:-552.5px;width:2000px;text-align:center;top:977.15px;font:normal normal 17.4px/19.993px 'Liberation Sans', sans-serif;color:#000;white-space:pre;">26</div>
<div style="position:absolute;left:507px;top:975px;width:115px;height:24px;background:#fff;"></div>
<div style="position:absolute;left:-434.5px;width:2000px;text-align:center;top:977.15px;font:normal normal 17.4px/19.993px 'Liberation Sans', sans-serif;color:#000;white-space:pre;">20</div>
<div style="position:absolute;left:625px;top:975px;width:115px;height:24px;background:#fff;"></div>
<div style="position:absolute;left:-316.5px;width:2000px;text-align:center;top:977.15px;font:normal normal 17.4px/19.993px 'Liberation Sans', sans-serif;color:#000;white-space:pre;">2.5</div>
<div style="position:absolute;left:743px;top:975px;width:114px;height:24px;background:#fff;"></div>
<div style="position:absolute;left:-199.0px;width:2000px;text-align:center;top:977.15px;font:normal normal 17.4px/19.993px 'Liberation Sans', sans-serif;color:#000;white-space:pre;">$1,543,900</div>
<div style="position:absolute;left:860px;top:975px;width:115px;height:24px;background:#fff;"></div>
<div style="position:absolute;left:-81.5px;width:2000px;text-align:center;top:977.15px;font:normal normal 17.4px/19.993px 'Liberation Sans', sans-serif;color:#000;white-space:pre;">$1,562,500</div>
<div style="position:absolute;left:978px;top:975px;width:114px;height:24px;background:#fff;"></div>
<div style="position:absolute;left:36.0px;width:2000px;text-align:center;top:977.15px;font:normal normal 17.4px/19.993px 'Liberation Sans', sans-serif;color:#000;white-space:pre;">$1,576,542</div>
<div style="position:absolute;left:1095px;top:975px;width:115px;height:24px;background:#fff;"></div>
<div style="position:absolute;left:153.5px;width:2000px;text-align:center;top:977.15px;font:normal normal 17.4px/19.993px 'Liberation Sans', sans-serif;color:#000;white-space:pre;">19</div>
<div style="position:absolute;left:1213px;top:975px;width:115px;height:24px;background:#fff;"></div>
<div style="position:absolute;left:271.5px;width:2000px;text-align:center;top:977.15px;font:normal normal 17.4px/19.993px 'Liberation Sans', sans-serif;color:#000;white-space:pre;">$581</div>
<div style="position:absolute;left:1331px;top:975px;width:114px;height:24px;background:#fff;"></div>
<div style="position:absolute;left:389.0px;width:2000px;text-align:center;top:977.15px;font:normal normal 17.4px/19.993px 'Liberation Sans', sans-serif;color:#000;white-space:pre;">$604</div>
<div style="position:absolute;left:1448px;top:975px;width:114px;height:24px;background:#fff;"></div>
<div style="position:absolute;left:506.0px;width:2000px;text-align:center;top:977.15px;font:normal normal 17.4px/19.993px 'Liberation Sans', sans-serif;color:#000;white-space:pre;">102.11%</div>
<div style="position:absolute;left:155px;top:1002px;width:113px;height:24px;background:#fff;"></div>
<div style="position:absolute;left:-787.5px;width:2000px;text-align:center;top:1004.23px;font:normal normal 17.4px/19.993px 'Liberation Sans', sans-serif;color:#000;white-space:pre;">May 16</div>
<div style="position:absolute;left:271px;top:1002px;width:115px;height:24px;background:#fff;"></div>
<div style="position:absolute;left:-670.5px;width:2000px;text-align:center;top:1004.23px;font:normal normal 17.4px/19.993px 'Liberation Sans', sans-serif;color:#000;white-space:pre;">46</div>
<div style="position:absolute;left:389px;top:1002px;width:115px;height:24px;background:#fff;"></div>
<div style="position:absolute;left:-552.5px;width:2000px;text-align:center;top:1004.23px;font:normal normal 17.4px/19.993px 'Liberation Sans', sans-serif;color:#000;white-space:pre;">25</div>
<div style="position:absolute;left:507px;top:1002px;width:115px;height:24px;background:#fff;"></div>
<div style="position:absolute;left:-434.5px;width:2000px;text-align:center;top:1004.23px;font:normal normal 17.4px/19.993px 'Liberation Sans', sans-serif;color:#000;white-space:pre;">25</div>
<div style="position:absolute;left:625px;top:1002px;width:115px;height:24px;background:#fff;"></div>
<div style="position:absolute;left:-316.5px;width:2000px;text-align:center;top:1004.23px;font:normal normal 17.4px/19.993px 'Liberation Sans', sans-serif;color:#000;white-space:pre;">2.4</div>
<div style="position:absolute;left:743px;top:1002px;width:114px;height:24px;background:#fff;"></div>
<div style="position:absolute;left:-199.0px;width:2000px;text-align:center;top:1004.23px;font:normal normal 17.4px/19.993px 'Liberation Sans', sans-serif;color:#000;white-space:pre;">$1,451,440</div>
<div style="position:absolute;left:860px;top:1002px;width:115px;height:24px;background:#fff;"></div>
<div style="position:absolute;left:-81.5px;width:2000px;text-align:center;top:1004.23px;font:normal normal 17.4px/19.993px 'Liberation Sans', sans-serif;color:#000;white-space:pre;">$1,370,000</div>
<div style="position:absolute;left:978px;top:1002px;width:114px;height:24px;background:#fff;"></div>
<div style="position:absolute;left:36.0px;width:2000px;text-align:center;top:1004.23px;font:normal normal 17.4px/19.993px 'Liberation Sans', sans-serif;color:#000;white-space:pre;">$1,490,244</div>
<div style="position:absolute;left:1095px;top:1002px;width:115px;height:24px;background:#fff;"></div>
<div style="position:absolute;left:153.5px;width:2000px;text-align:center;top:1004.23px;font:normal normal 17.4px/19.993px 'Liberation Sans', sans-serif;color:#000;white-space:pre;">10</div>
<div style="position:absolute;left:1213px;top:1002px;width:115px;height:24px;background:#fff;"></div>
<div style="position:absolute;left:271.5px;width:2000px;text-align:center;top:1004.23px;font:normal normal 17.4px/19.993px 'Liberation Sans', sans-serif;color:#000;white-space:pre;">$574</div>
<div style="position:absolute;left:1331px;top:1002px;width:114px;height:24px;background:#fff;"></div>
<div style="position:absolute;left:389.0px;width:2000px;text-align:center;top:1004.23px;font:normal normal 17.4px/19.993px 'Liberation Sans', sans-serif;color:#000;white-space:pre;">$595</div>
<div style="position:absolute;left:1448px;top:1002px;width:114px;height:24px;background:#fff;"></div>
<div style="position:absolute;left:506.0px;width:2000px;text-align:center;top:1004.23px;font:normal normal 17.4px/19.993px 'Liberation Sans', sans-serif;color:#000;white-space:pre;">102.67%</div>
<div style="position:absolute;left:155px;top:1029px;width:113px;height:24px;background:#fff;"></div>
<div style="position:absolute;left:-787.5px;width:2000px;text-align:center;top:1031.31px;font:normal normal 17.4px/19.993px 'Liberation Sans', sans-serif;color:#000;white-space:pre;">Jun 16</div>
<div style="position:absolute;left:271px;top:1029px;width:115px;height:24px;background:#fff;"></div>
<div style="position:absolute;left:-670.5px;width:2000px;text-align:center;top:1031.31px;font:normal normal 17.4px/19.993px 'Liberation Sans', sans-serif;color:#000;white-space:pre;">49</div>
<div style="position:absolute;left:389px;top:1029px;width:115px;height:24px;background:#fff;"></div>
<div style="position:absolute;left:-552.5px;width:2000px;text-align:center;top:1031.31px;font:normal normal 17.4px/19.993px 'Liberation Sans', sans-serif;color:#000;white-space:pre;">26</div>
<div style="position:absolute;left:507px;top:1029px;width:115px;height:24px;background:#fff;"></div>
<div style="position:absolute;left:-434.5px;width:2000px;text-align:center;top:1031.31px;font:normal normal 17.4px/19.993px 'Liberation Sans', sans-serif;color:#000;white-space:pre;">29</div>
<div style="position:absolute;left:625px;top:1029px;width:115px;height:24px;background:#fff;"></div>
<div style="position:absolute;left:-316.5px;width:2000px;text-align:center;top:1031.31px;font:normal normal 17.4px/19.993px 'Liberation Sans', sans-serif;color:#000;white-space:pre;">2.1</div>
<div style="position:absolute;left:743px;top:1029px;width:114px;height:24px;background:#fff;"></div>
<div style="position:absolute;left:-199.0px;width:2000px;text-align:center;top:1031.31px;font:normal normal 17.4px/19.993px 'Liberation Sans', sans-serif;color:#000;white-space:pre;">$1,601,069</div>
<div style="position:absolute;left:860px;top:1029px;width:115px;height:24px;background:#fff;"></div>
<div style="position:absolute;left:-81.5px;width:2000px;text-align:center;top:1031.31px;font:normal normal 17.4px/19.993px 'Liberation Sans', sans-serif;color:#000;white-space:pre;">$1,450,000</div>
<div style="position:absolute;left:978px;top:1029px;width:114px;height:24px;background:#fff;"></div>
<div style="position:absolute;left:36.0px;width:2000px;text-align:center;top:1031.31px;font:normal normal 17.4px/19.993px 'Liberation Sans', sans-serif;color:#000;white-space:pre;">$1,670,413</div>
<div style="position:absolute;left:1095px;top:1029px;width:115px;height:24px;background:#fff;"></div>
<div style="position:absolute;left:153.5px;width:2000px;text-align:center;top:1031.31px;font:normal normal 17.4px/19.993px 'Liberation Sans', sans-serif;color:#000;white-space:pre;">19</div>
<div style="position:absolute;left:1213px;top:1029px;width:115px;height:24px;background:#fff;"></div>
<div style="position:absolute;left:271.5px;width:2000px;text-align:center;top:1031.31px;font:normal normal 17.4px/19.993px 'Liberation Sans', sans-serif;color:#000;white-space:pre;">$577</div>
<div style="position:absolute;left:1331px;top:1029px;width:114px;height:24px;background:#fff;"></div>
<div style="position:absolute;left:389.0px;width:2000px;text-align:center;top:1031.31px;font:normal normal 17.4px/19.993px 'Liberation Sans', sans-serif;color:#000;white-space:pre;">$603</div>
<div style="position:absolute;left:1448px;top:1029px;width:114px;height:24px;background:#fff;"></div>
<div style="position:absolute;left:506.0px;width:2000px;text-align:center;top:1031.31px;font:normal normal 17.4px/19.993px 'Liberation Sans', sans-serif;color:#000;white-space:pre;">104.33%</div>
<div style="position:absolute;left:155px;top:1056px;width:113px;height:24px;background:#fff;"></div>
<div style="position:absolute;left:-787.5px;width:2000px;text-align:center;top:1058.39px;font:normal normal 17.4px/19.993px 'Liberation Sans', sans-serif;color:#000;white-space:pre;">Jul 16</div>
<div style="position:absolute;left:271px;top:1056px;width:115px;height:24px;background:#fff;"></div>
<div style="position:absolute;left:-670.5px;width:2000px;text-align:center;top:1058.39px;font:normal normal 17.4px/19.993px 'Liberation Sans', sans-serif;color:#000;white-space:pre;">47</div>
<div style="position:absolute;left:389px;top:1056px;width:115px;height:24px;background:#fff;"></div>
<div style="position:absolute;left:-552.5px;width:2000px;text-align:center;top:1058.39px;font:normal normal 17.4px/19.993px 'Liberation Sans', sans-serif;color:#000;white-space:pre;">21</div>
<div style="position:absolute;left:507px;top:1056px;width:115px;height:24px;background:#fff;"></div>
<div style="position:absolute;left:-434.5px;width:2000px;text-align:center;top:1058.39px;font:normal normal 17.4px/19.993px 'Liberation Sans', sans-serif;color:#000;white-space:pre;">29</div>
<div style="position:absolute;left:625px;top:1056px;width:115px;height:24px;background:#fff;"></div>
<div style="position:absolute;left:-316.5px;width:2000px;text-align:center;top:1058.39px;font:normal normal 17.4px/19.993px 'Liberation Sans', sans-serif;color:#000;white-space:pre;">1.9</div>
<div style="position:absolute;left:743px;top:1056px;width:114px;height:24px;background:#fff;"></div>
<div style="position:absolute;left:-199.0px;width:2000px;text-align:center;top:1058.39px;font:normal normal 17.4px/19.993px 'Liberation Sans', sans-serif;color:#000;white-space:pre;">$1,562,948</div>
<div style="position:absolute;left:860px;top:1056px;width:115px;height:24px;background:#fff;"></div>
<div style="position:absolute;left:-81.5px;width:2000px;text-align:center;top:1058.39px;font:normal normal 17.4px/19.993px 'Liberation Sans', sans-serif;color:#000;white-space:pre;">$1,500,000</div>
<div style="position:absolute;left:978px;top:1056px;width:114px;height:24px;background:#fff;"></div>
<div style="position:absolute;left:36.0px;width:2000px;text-align:center;top:1058.39px;font:normal normal 17.4px/19.993px 'Liberation Sans', sans-serif;color:#000;white-space:pre;">$1,600,092</div>
<div style="position:absolute;left:1095px;top:1056px;width:115px;height:24px;background:#fff;"></div>
<div style="position:absolute;left:153.5px;width:2000px;text-align:center;top:1058.39px;font:normal normal 17.4px/19.993px 'Liberation Sans', sans-serif;color:#000;white-space:pre;">26</div>
<div style="position:absolute;left:1213px;top:1056px;width:115px;height:24px;background:#fff;"></div>
<div style="position:absolute;left:271.5px;width:2000px;text-align:center;top:1058.39px;font:normal normal 17.4px/19.993px 'Liberation Sans', sans-serif;color:#000;white-space:pre;">$593</div>
<div style="position:absolute;left:1331px;top:1056px;width:114px;height:24px;background:#fff;"></div>
<div style="position:absolute;left:389.0px;width:2000px;text-align:center;top:1058.39px;font:normal normal 17.4px/19.993px 'Liberation Sans', sans-serif;color:#000;white-space:pre;">$608</div>
<div style="position:absolute;left:1448px;top:1056px;width:114px;height:24px;background:#fff;"></div>
<div style="position:absolute;left:506.0px;width:2000px;text-align:center;top:1058.39px;font:normal normal 17.4px/19.993px 'Liberation Sans', sans-serif;color:#000;white-space:pre;">102.38%</div>
<div style="position:absolute;left:155px;top:1083px;width:113px;height:24px;background:#fff;"></div>
<div style="position:absolute;left:-787.5px;width:2000px;text-align:center;top:1085.47px;font:normal normal 17.4px/19.993px 'Liberation Sans', sans-serif;color:#000;white-space:pre;">Aug 16</div>
<div style="position:absolute;left:271px;top:1083px;width:115px;height:24px;background:#fff;"></div>
<div style="position:absolute;left:-670.5px;width:2000px;text-align:center;top:1085.47px;font:normal normal 17.4px/19.993px 'Liberation Sans', sans-serif;color:#000;white-space:pre;">49</div>
<div style="position:absolute;left:389px;top:1083px;width:115px;height:24px;background:#fff;"></div>
<div style="position:absolute;left:-552.5px;width:2000px;text-align:center;top:1085.47px;font:normal normal 17.4px/19.993px 'Liberation Sans', sans-serif;color:#000;white-space:pre;">14</div>
<div style="position:absolute;left:507px;top:1083px;width:115px;height:24px;background:#fff;"></div>
<div style="position:absolute;left:-434.5px;width:2000px;text-align:center;top:1085.47px;font:normal normal 17.4px/19.993px 'Liberation Sans', sans-serif;color:#000;white-space:pre;">26</div>
<div style="position:absolute;left:625px;top:1083px;width:115px;height:24px;background:#fff;"></div>
<div style="position:absolute;left:-316.5px;width:2000px;text-align:center;top:1085.47px;font:normal normal 17.4px/19.993px 'Liberation Sans', sans-serif;color:#000;white-space:pre;">2.3</div>
<div style="position:absolute;left:743px;top:1083px;width:114px;height:24px;background:#fff;"></div>
<div style="position:absolute;left:-199.0px;width:2000px;text-align:center;top:1085.47px;font:normal normal 17.4px/19.993px 'Liberation Sans', sans-serif;color:#000;white-space:pre;">$1,527,113</div>
<div style="position:absolute;left:860px;top:1083px;width:115px;height:24px;background:#fff;"></div>
<div style="position:absolute;left:-81.5px;width:2000px;text-align:center;top:1085.47px;font:normal normal 17.4px/19.993px 'Liberation Sans', sans-serif;color:#000;white-space:pre;">$1,503,293</div>
<div style="position:absolute;left:978px;top:1083px;width:114px;height:24px;background:#fff;"></div>
<div style="position:absolute;left:36.0px;width:2000px;text-align:center;top:1085.47px;font:normal normal 17.4px/19.993px 'Liberation Sans', sans-serif;color:#000;white-space:pre;">$1,557,064</div>
<div style="position:absolute;left:1095px;top:1083px;width:115px;height:24px;background:#fff;"></div>
<div style="position:absolute;left:153.5px;width:2000px;text-align:center;top:1085.47px;font:normal normal 17.4px/19.993px 'Liberation Sans', sans-serif;color:#000;white-space:pre;">25</div>
<div style="position:absolute;left:1213px;top:1083px;width:115px;height:24px;background:#fff;"></div>
<div style="position:absolute;left:271.5px;width:2000px;text-align:center;top:1085.47px;font:normal normal 17.4px/19.993px 'Liberation Sans', sans-serif;color:#000;white-space:pre;">$600</div>
<div style="position:absolute;left:1331px;top:1083px;width:114px;height:24px;background:#fff;"></div>
<div style="position:absolute;left:389.0px;width:2000px;text-align:center;top:1085.47px;font:normal normal 17.4px/19.993px 'Liberation Sans', sans-serif;color:#000;white-space:pre;">$612</div>
<div style="position:absolute;left:1448px;top:1083px;width:114px;height:24px;background:#fff;"></div>
<div style="position:absolute;left:506.0px;width:2000px;text-align:center;top:1085.47px;font:normal normal 17.4px/19.993px 'Liberation Sans', sans-serif;color:#000;white-space:pre;">101.96%</div>
<div style="position:absolute;left:155px;top:1110px;width:113px;height:24px;background:#fff;"></div>
<div style="position:absolute;left:-787.5px;width:2000px;text-align:center;top:1112.55px;font:normal normal 17.4px/19.993px 'Liberation Sans', sans-serif;color:#000;white-space:pre;">Sep 16</div>
<div style="position:absolute;left:271px;top:1110px;width:115px;height:24px;background:#fff;"></div>
<div style="position:absolute;left:-670.5px;width:2000px;text-align:center;top:1112.55px;font:normal normal 17.4px/19.993px 'Liberation Sans', sans-serif;color:#000;white-space:pre;">48</div>
<div style="position:absolute;left:389px;top:1110px;width:115px;height:24px;background:#fff;"></div>
<div style="position:absolute;left:-552.5px;width:2000px;text-align:center;top:1112.55px;font:normal normal 17.4px/19.993px 'Liberation Sans', sans-serif;color:#000;white-space:pre;">20</div>
<div style="position:absolute;left:507px;top:1110px;width:115px;height:24px;background:#fff;"></div>
<div style="position:absolute;left:-434.5px;width:2000px;text-align:center;top:1112.55px;font:normal normal 17.4px/19.993px 'Liberation Sans', sans-serif;color:#000;white-space:pre;">16</div>
<div style="position:absolute;left:625px;top:1110px;width:115px;height:24px;background:#fff;"></div>
<div style="position:absolute;left:-316.5px;width:2000px;text-align:center;top:1112.55px;font:normal normal 17.4px/19.993px 'Liberation Sans', sans-serif;color:#000;white-space:pre;">2.4</div>
<div style="position:absolute;left:743px;top:1110px;width:114px;height:24px;background:#fff;"></div>
<div style="position:absolute;left:-199.0px;width:2000px;text-align:center;top:1112.55px;font:normal normal 17.4px/19.993px 'Liberation Sans', sans-serif;color:#000;white-space:pre;">$1,356,938</div>
<div style="position:absolute;left:860px;top:1110px;width:115px;height:24px;background:#fff;"></div>
<div style="position:absolute;left:-81.5px;width:2000px;text-align:center;top:1112.55px;font:normal normal 17.4px/19.993px 'Liberation Sans', sans-serif;color:#000;white-space:pre;">$1,335,000</div>
<div style="position:absolute;left:978px;top:1110px;width:114px;height:24px;background:#fff;"></div>
<div style="position:absolute;left:36.0px;width:2000px;text-align:center;top:1112.55px;font:normal normal 17.4px/19.993px 'Liberation Sans', sans-serif;color:#000;white-space:pre;">$1,416,906</div>
<div style="position:absolute;left:1095px;top:1110px;width:115px;height:24px;background:#fff;"></div>
<div style="position:absolute;left:153.5px;width:2000px;text-align:center;top:1112.55px;font:normal normal 17.4px/19.993px 'Liberation Sans', sans-serif;color:#000;white-space:pre;">26</div>
<div style="position:absolute;left:1213px;top:1110px;width:115px;height:24px;background:#fff;"></div>
<div style="position:absolute;left:271.5px;width:2000px;text-align:center;top:1112.55px;font:normal normal 17.4px/19.993px 'Liberation Sans', sans-serif;color:#000;white-space:pre;">$538</div>
<div style="position:absolute;left:1331px;top:1110px;width:114px;height:24px;background:#fff;"></div>
<div style="position:absolute;left:389.0px;width:2000px;text-align:center;top:1112.55px;font:normal normal 17.4px/19.993px 'Liberation Sans', sans-serif;color:#000;white-space:pre;">$568</div>
<div style="position:absolute;left:1448px;top:1110px;width:114px;height:24px;background:#fff;"></div>
<div style="position:absolute;left:506.0px;width:2000px;text-align:center;top:1112.55px;font:normal normal 17.4px/19.993px 'Liberation Sans', sans-serif;color:#000;white-space:pre;">104.42%</div>
<div style="position:absolute;left:155px;top:1137px;width:113px;height:23px;background:#fff;"></div>
<div style="position:absolute;left:-787.5px;width:2000px;text-align:center;top:1139.63px;font:normal normal 17.4px/19.993px 'Liberation Sans', sans-serif;color:#000;white-space:pre;">Oct 16</div>
<div style="position:absolute;left:271px;top:1137px;width:115px;height:23px;background:#fff;"></div>
<div style="position:absolute;left:-670.5px;width:2000px;text-align:center;top:1139.63px;font:normal normal 17.4px/19.993px 'Liberation Sans', sans-serif;color:#000;white-space:pre;">37</div>
<div style="position:absolute;left:389px;top:1137px;width:115px;height:23px;background:#fff;"></div>
<div style="position:absolute;left:-552.5px;width:2000px;text-align:center;top:1139.63px;font:normal normal 17.4px/19.993px 'Liberation Sans', sans-serif;color:#000;white-space:pre;">15</div>
<div style="position:absolute;left:507px;top:1137px;width:115px;height:23px;background:#fff;"></div>
<div style="position:absolute;left:-434.5px;width:2000px;text-align:center;top:1139.63px;font:normal normal 17.4px/19.993px 'Liberation Sans', sans-serif;color:#000;white-space:pre;">22</div>
<div style="position:absolute;left:625px;top:1137px;width:115px;height:23px;background:#fff;"></div>
<div style="position:absolute;left:-316.5px;width:2000px;text-align:center;top:1139.63px;font:normal normal 17.4px/19.993px 'Liberation Sans', sans-serif;color:#000;white-space:pre;">2.1</div>
<div style="position:absolute;left:743px;top:1137px;width:114px;height:23px;background:#fff;"></div>
<div style="position:absolute;left:-199.0px;width:2000px;text-align:center;top:1139.63px;font:normal normal 17.4px/19.993px 'Liberation Sans', sans-serif;color:#000;white-space:pre;">$1,539,955</div>
<div style="position:absolute;left:860px;top:1137px;width:115px;height:23px;background:#fff;"></div>
<div style="position:absolute;left:-81.5px;width:2000px;text-align:center;top:1139.63px;font:normal normal 17.4px/19.993px 'Liberation Sans', sans-serif;color:#000;white-space:pre;">$1,326,500</div>
<div style="position:absolute;left:978px;top:1137px;width:114px;height:23px;background:#fff;"></div>
<div style="position:absolute;left:36.0px;width:2000px;text-align:center;top:1139.63px;font:normal normal 17.4px/19.993px 'Liberation Sans', sans-serif;color:#000;white-space:pre;">$1,548,634</div>
<div style="position:absolute;left:1095px;top:1137px;width:115px;height:23px;background:#fff;"></div>
<div style="position:absolute;left:153.5px;width:2000px;text-align:center;top:1139.63px;font:normal normal 17.4px/19.993px 'Liberation Sans', sans-serif;color:#000;white-space:pre;">14</div>
<div style="position:absolute;left:1213px;top:1137px;width:115px;height:23px;background:#fff;"></div>
<div style="position:absolute;left:271.5px;width:2000px;text-align:center;top:1139.63px;font:normal normal 17.4px/19.993px 'Liberation Sans', sans-serif;color:#000;white-space:pre;">$579</div>
<div style="position:absolute;left:1331px;top:1137px;width:114px;height:23px;background:#fff;"></div>
<div style="position:absolute;left:389.0px;width:2000px;text-align:center;top:1139.63px;font:normal normal 17.4px/19.993px 'Liberation Sans', sans-serif;color:#000;white-space:pre;">$588</div>
<div style="position:absolute;left:1448px;top:1137px;width:114px;height:23px;background:#fff;"></div>
<div style="position:absolute;left:506.0px;width:2000px;text-align:center;top:1139.63px;font:normal normal 17.4px/19.993px 'Liberation Sans', sans-serif;color:#000;white-space:pre;">100.56%</div>
<div style="position:absolute;left:155px;top:1163px;width:113px;height:24px;background:#fff;"></div>
<div style="position:absolute;left:-787.5px;width:2000px;text-align:center;top:1166.71px;font:normal normal 17.4px/19.993px 'Liberation Sans', sans-serif;color:#000;white-space:pre;">Nov 16</div>
<div style="position:absolute;left:271px;top:1163px;width:115px;height:24px;background:#fff;"></div>
<div style="position:absolute;left:-670.5px;width:2000px;text-align:center;top:1166.71px;font:normal normal 17.4px/19.993px 'Liberation Sans', sans-serif;color:#000;white-space:pre;">28</div>
<div style="position:absolute;left:389px;top:1163px;width:115px;height:24px;background:#fff;"></div>
<div style="position:absolute;left:-552.5px;width:2000px;text-align:center;top:1166.71px;font:normal normal 17.4px/19.993px 'Liberation Sans', sans-serif;color:#000;white-space:pre;">14</div>
<div style="position:absolute;left:507px;top:1163px;width:115px;height:24px;background:#fff;"></div>
<div style="position:absolute;left:-434.5px;width:2000px;text-align:center;top:1166.71px;font:normal normal 17.4px/19.993px 'Liberation Sans', sans-serif;color:#000;white-space:pre;">20</div>
<div style="position:absolute;left:625px;top:1163px;width:115px;height:24px;background:#fff;"></div>
<div style="position:absolute;left:-316.5px;width:2000px;text-align:center;top:1166.71px;font:normal normal 17.4px/19.993px 'Liberation Sans', sans-serif;color:#000;white-space:pre;">1.8</div>
<div style="position:absolute;left:743px;top:1163px;width:114px;height:24px;background:#fff;"></div>
<div style="position:absolute;left:-199.0px;width:2000px;text-align:center;top:1166.71px;font:normal normal 17.4px/19.993px 'Liberation Sans', sans-serif;color:#000;white-space:pre;">$1,491,748</div>
<div style="position:absolute;left:860px;top:1163px;width:115px;height:24px;background:#fff;"></div>
<div style="position:absolute;left:-81.5px;width:2000px;text-align:center;top:1166.71px;font:normal normal 17.4px/19.993px 'Liberation Sans', sans-serif;color:#000;white-space:pre;">$1,346,000</div>
<div style="position:absolute;left:978px;top:1163px;width:114px;height:24px;background:#fff;"></div>
<div style="position:absolute;left:36.0px;width:2000px;text-align:center;top:1166.71px;font:normal normal 17.4px/19.993px 'Liberation Sans', sans-serif;color:#000;white-space:pre;">$1,490,708</div>
<div style="position:absolute;left:1095px;top:1163px;width:115px;height:24px;background:#fff;"></div>
<div style="position:absolute;left:153.5px;width:2000px;text-align:center;top:1166.71px;font:normal normal 17.4px/19.993px 'Liberation Sans', sans-serif;color:#000;white-space:pre;">31</div>
<div style="position:absolute;left:1213px;top:1163px;width:115px;height:24px;background:#fff;"></div>
<div style="position:absolute;left:271.5px;width:2000px;text-align:center;top:1166.71px;font:normal normal 17.4px/19.993px 'Liberation Sans', sans-serif;color:#000;white-space:pre;">$595</div>
<div style="position:absolute;left:1331px;top:1163px;width:114px;height:24px;background:#fff;"></div>
<div style="position:absolute;left:389.0px;width:2000px;text-align:center;top:1166.71px;font:normal normal 17.4px/19.993px 'Liberation Sans', sans-serif;color:#000;white-space:pre;">$603</div>
<div style="position:absolute;left:1448px;top:1163px;width:114px;height:24px;background:#fff;"></div>
<div style="position:absolute;left:506.0px;width:2000px;text-align:center;top:1166.71px;font:normal normal 17.4px/19.993px 'Liberation Sans', sans-serif;color:#000;white-space:pre;">99.93%</div>
<div style="position:absolute;left:155px;top:1190px;width:113px;height:24px;background:#fff;"></div>
<div style="position:absolute;left:-787.5px;width:2000px;text-align:center;top:1193.79px;font:normal normal 17.4px/19.993px 'Liberation Sans', sans-serif;color:#000;white-space:pre;">Dec 16</div>
<div style="position:absolute;left:271px;top:1190px;width:115px;height:24px;background:#fff;"></div>
<div style="position:absolute;left:-670.5px;width:2000px;text-align:center;top:1193.79px;font:normal normal 17.4px/19.993px 'Liberation Sans', sans-serif;color:#000;white-space:pre;">17</div>
<div style="position:absolute;left:389px;top:1190px;width:115px;height:24px;background:#fff;"></div>
<div style="position:absolute;left:-552.5px;width:2000px;text-align:center;top:1193.79px;font:normal normal 17.4px/19.993px 'Liberation Sans', sans-serif;color:#000;white-space:pre;">4</div>
<div style="position:absolute;left:507px;top:1190px;width:115px;height:24px;background:#fff;"></div>
<div style="position:absolute;left:-434.5px;width:2000px;text-align:center;top:1193.79px;font:normal normal 17.4px/19.993px 'Liberation Sans', sans-serif;color:#000;white-space:pre;">13</div>
<div style="position:absolute;left:625px;top:1190px;width:115px;height:24px;background:#fff;"></div>
<div style="position:absolute;left:-316.5px;width:2000px;text-align:center;top:1193.79px;font:normal normal 17.4px/19.993px 'Liberation Sans', sans-serif;color:#000;white-space:pre;">1.3</div>
<div style="position:absolute;left:743px;top:1190px;width:114px;height:24px;background:#fff;"></div>
<div style="position:absolute;left:-199.0px;width:2000px;text-align:center;top:1193.79px;font:normal normal 17.4px/19.993px 'Liberation Sans', sans-serif;color:#000;white-space:pre;">$1,627,802</div>
<div style="position:absolute;left:860px;top:1190px;width:115px;height:24px;background:#fff;"></div>
<div style="position:absolute;left:-81.5px;width:2000px;text-align:center;top:1193.79px;font:normal normal 17.4px/19.993px 'Liberation Sans', sans-serif;color:#000;white-space:pre;">$1,475,000</div>
<div style="position:absolute;left:978px;top:1190px;width:114px;height:24px;background:#fff;"></div>
<div style="position:absolute;left:36.0px;width:2000px;text-align:center;top:1193.79px;font:normal normal 17.4px/19.993px 'Liberation Sans', sans-serif;color:#000;white-space:pre;">$1,587,442</div>
<div style="position:absolute;left:1095px;top:1190px;width:115px;height:24px;background:#fff;"></div>
<div style="position:absolute;left:153.5px;width:2000px;text-align:center;top:1193.79px;font:normal normal 17.4px/19.993px 'Liberation Sans', sans-serif;color:#000;white-space:pre;">51</div>
<div style="position:absolute;left:1213px;top:1190px;width:115px;height:24px;background:#fff;"></div>
<div style="position:absolute;left:271.5px;width:2000px;text-align:center;top:1193.79px;font:normal normal 17.4px/19.993px 'Liberation Sans', sans-serif;color:#000;white-space:pre;">$561</div>
<div style="position:absolute;left:1331px;top:1190px;width:114px;height:24px;background:#fff;"></div>
<div style="position:absolute;left:389.0px;width:2000px;text-align:center;top:1193.79px;font:normal normal 17.4px/19.993px 'Liberation Sans', sans-serif;color:#000;white-space:pre;">$549</div>
<div style="position:absolute;left:1448px;top:1190px;width:114px;height:24px;background:#fff;"></div>
<div style="position:absolute;left:506.0px;width:2000px;text-align:center;top:1193.79px;font:normal normal 17.4px/19.993px 'Liberation Sans', sans-serif;color:#000;white-space:pre;">97.52%</div>
<div style="position:absolute;left:155px;top:1217px;width:113px;height:24px;background:#fff;"></div>
<div style="position:absolute;left:-787.5px;width:2000px;text-align:center;top:1220.87px;font:normal normal 17.4px/19.993px 'Liberation Sans', sans-serif;color:#000;white-space:pre;">Jan 17</div>
<div style="position:absolute;left:271px;top:1217px;width:115px;height:24px;background:#fff;"></div>
<div style="position:absolute;left:-670.5px;width:2000px;text-align:center;top:1220.87px;font:normal normal 17.4px/19.993px 'Liberation Sans', sans-serif;color:#000;white-space:pre;">23</div>
<div style="position:absolute;left:389px;top:1217px;width:115px;height:24px;background:#fff;"></div>
<div style="position:absolute;left:-552.5px;width:2000px;text-align:center;top:1220.87px;font:normal normal 17.4px/19.993px 'Liberation Sans', sans-serif;color:#000;white-space:pre;">3</div>
<div style="position:absolute;left:507px;top:1217px;width:115px;height:24px;background:#fff;"></div>
<div style="position:absolute;left:-434.5px;width:2000px;text-align:center;top:1220.87px;font:normal normal 17.4px/19.993px 'Liberation Sans', sans-serif;color:#000;white-space:pre;">7</div>
<div style="position:absolute;left:625px;top:1217px;width:115px;height:24px;background:#fff;"></div>
<div style="position:absolute;left:-316.5px;width:2000px;text-align:center;top:1220.87px;font:normal normal 17.4px/19.993px 'Liberation Sans', sans-serif;color:#000;white-space:pre;">2.6</div>
<div style="position:absolute;left:743px;top:1217px;width:114px;height:24px;background:#fff;"></div>
<div style="position:absolute;left:-199.0px;width:2000px;text-align:center;top:1220.87px;font:normal normal 17.4px/19.993px 'Liberation Sans', sans-serif;color:#000;white-space:pre;">$1,170,429</div>
<div style="position:absolute;left:860px;top:1217px;width:115px;height:24px;background:#fff;"></div>
<div style="position:absolute;left:-81.5px;width:2000px;text-align:center;top:1220.87px;font:normal normal 17.4px/19.993px 'Liberation Sans', sans-serif;color:#000;white-space:pre;">$1,125,000</div>
<div style="position:absolute;left:978px;top:1217px;width:114px;height:24px;background:#fff;"></div>
<div style="position:absolute;left:36.0px;width:2000px;text-align:center;top:1220.87px;font:normal normal 17.4px/19.993px 'Liberation Sans', sans-serif;color:#000;white-space:pre;">$1,154,571</div>
<div style="position:absolute;left:1095px;top:1217px;width:115px;height:24px;background:#fff;"></div>
<div style="position:absolute;left:153.5px;width:2000px;text-align:center;top:1220.87px;font:normal normal 17.4px/19.993px 'Liberation Sans', sans-serif;color:#000;white-space:pre;">25</div>
<div style="position:absolute;left:1213px;top:1217px;width:115px;height:24px;background:#fff;"></div>
<div style="position:absolute;left:271.5px;width:2000px;text-align:center;top:1220.87px;font:normal normal 17.4px/19.993px 'Liberation Sans', sans-serif;color:#000;white-space:pre;">$601</div>
<div style="position:absolute;left:1331px;top:1217px;width:114px;height:24px;background:#fff;"></div>
<div style="position:absolute;left:389.0px;width:2000px;text-align:center;top:1220.87px;font:normal normal 17.4px/19.993px 'Liberation Sans', sans-serif;color:#000;white-space:pre;">$605</div>
<div style="position:absolute;left:1448px;top:1217px;width:114px;height:24px;background:#fff;"></div>
<div style="position:absolute;left:506.0px;width:2000px;text-align:center;top:1220.87px;font:normal normal 17.4px/19.993px 'Liberation Sans', sans-serif;color:#000;white-space:pre;">98.65%</div>
<div style="position:absolute;left:155px;top:1244px;width:113px;height:24px;background:#fff;"></div>
<div style="position:absolute;left:-787.5px;width:2000px;text-align:center;top:1247.95px;font:normal normal 17.4px/19.993px 'Liberation Sans', sans-serif;color:#000;white-space:pre;">Feb 17</div>
<div style="position:absolute;left:271px;top:1244px;width:115px;height:24px;background:#fff;"></div>
<div style="position:absolute;left:-670.5px;width:2000px;text-align:center;top:1247.95px;font:normal normal 17.4px/19.993px 'Liberation Sans', sans-serif;color:#000;white-space:pre;">37</div>
<div style="position:absolute;left:389px;top:1244px;width:115px;height:24px;background:#fff;"></div>
<div style="position:absolute;left:-552.5px;width:2000px;text-align:center;top:1247.95px;font:normal normal 17.4px/19.993px 'Liberation Sans', sans-serif;color:#000;white-space:pre;">7</div>
<div style="position:absolute;left:507px;top:1244px;width:115px;height:24px;background:#fff;"></div>
<div style="position:absolute;left:-434.5px;width:2000px;text-align:center;top:1247.95px;font:normal normal 17.4px/19.993px 'Liberation Sans', sans-serif;color:#000;white-space:pre;">3</div>
<div style="position:absolute;left:625px;top:1244px;width:115px;height:24px;background:#fff;"></div>
<div style="position:absolute;left:-316.5px;width:2000px;text-align:center;top:1247.95px;font:normal normal 17.4px/19.993px 'Liberation Sans', sans-serif;color:#000;white-space:pre;">5.3</div>
<div style="position:absolute;left:743px;top:1244px;width:114px;height:24px;background:#fff;"></div>
<div style="position:absolute;left:-199.0px;width:2000px;text-align:center;top:1247.95px;font:normal normal 17.4px/19.993px 'Liberation Sans', sans-serif;color:#000;white-space:pre;">$1,199,667</div>
<div style="position:absolute;left:860px;top:1244px;width:115px;height:24px;background:#fff;"></div>
<div style="position:absolute;left:-81.5px;width:2000px;text-align:center;top:1247.95px;font:normal normal 17.4px/19.993px 'Liberation Sans', sans-serif;color:#000;white-space:pre;">$1,056,590</div>
<div style="position:absolute;left:978px;top:1244px;width:114px;height:24px;background:#fff;"></div>
<div style="position:absolute;left:36.0px;width:2000px;text-align:center;top:1247.95px;font:normal normal 17.4px/19.993px 'Liberation Sans', sans-serif;color:#000;white-space:pre;">$1,380,530</div>
<div style="position:absolute;left:1095px;top:1244px;width:115px;height:24px;background:#fff;"></div>
<div style="position:absolute;left:153.5px;width:2000px;text-align:center;top:1247.95px;font:normal normal 17.4px/19.993px 'Liberation Sans', sans-serif;color:#000;white-space:pre;">10</div>
<div style="position:absolute;left:1213px;top:1244px;width:115px;height:24px;background:#fff;"></div>
<div style="position:absolute;left:271.5px;width:2000px;text-align:center;top:1247.95px;font:normal normal 17.4px/19.993px 'Liberation Sans', sans-serif;color:#000;white-space:pre;">$556</div>
<div style="position:absolute;left:1331px;top:1244px;width:114px;height:24px;background:#fff;"></div>
<div style="position:absolute;left:389.0px;width:2000px;text-align:center;top:1247.95px;font:normal normal 17.4px/19.993px 'Liberation Sans', sans-serif;color:#000;white-space:pre;">$643</div>
<div style="position:absolute;left:1448px;top:1244px;width:114px;height:24px;background:#fff;"></div>
<div style="position:absolute;left:506.0px;width:2000px;text-align:center;top:1247.95px;font:normal normal 17.4px/19.993px 'Liberation Sans', sans-serif;color:#000;white-space:pre;">115.08%</div>
<div style="position:absolute;left:155px;top:1271px;width:113px;height:24px;background:#fff;"></div>
<div style="position:absolute;left:-787.5px;width:2000px;text-align:center;top:1275.03px;font:normal normal 17.4px/19.993px 'Liberation Sans', sans-serif;color:#000;white-space:pre;">Mar 17</div>
<div style="position:absolute;left:271px;top:1271px;width:115px;height:24px;background:#fff;"></div>
<div style="position:absolute;left:-670.5px;width:2000px;text-align:center;top:1275.03px;font:normal normal 17.4px/19.993px 'Liberation Sans', sans-serif;color:#000;white-space:pre;">34</div>
<div style="position:absolute;left:389px;top:1271px;width:115px;height:24px;background:#fff;"></div>
<div style="position:absolute;left:-552.5px;width:2000px;text-align:center;top:1275.03px;font:normal normal 17.4px/19.993px 'Liberation Sans', sans-serif;color:#000;white-space:pre;">25</div>
<div style="position:absolute;left:507px;top:1271px;width:115px;height:24px;background:#fff;"></div>
<div style="position:absolute;left:-434.5px;width:2000px;text-align:center;top:1275.03px;font:normal normal 17.4px/19.993px 'Liberation Sans', sans-serif;color:#000;white-space:pre;">18</div>
<div style="position:absolute;left:625px;top:1271px;width:115px;height:24px;background:#fff;"></div>
<div style="position:absolute;left:-316.5px;width:2000px;text-align:center;top:1275.03px;font:normal normal 17.4px/19.993px 'Liberation Sans', sans-serif;color:#000;white-space:pre;">3.5</div>
<div style="position:absolute;left:743px;top:1271px;width:114px;height:24px;background:#fff;"></div>
<div style="position:absolute;left:-199.0px;width:2000px;text-align:center;top:1275.03px;font:normal normal 17.4px/19.993px 'Liberation Sans', sans-serif;color:#000;white-space:pre;">$1,599,494</div>
<div style="position:absolute;left:860px;top:1271px;width:115px;height:24px;background:#fff;"></div>
<div style="position:absolute;left:-81.5px;width:2000px;text-align:center;top:1275.03px;font:normal normal 17.4px/19.993px 'Liberation Sans', sans-serif;color:#000;white-space:pre;">$1,432,500</div>
<div style="position:absolute;left:978px;top:1271px;width:114px;height:24px;background:#fff;"></div>
<div style="position:absolute;left:36.0px;width:2000px;text-align:center;top:1275.03px;font:normal normal 17.4px/19.993px 'Liberation Sans', sans-serif;color:#000;white-space:pre;">$1,658,272</div>
<div style="position:absolute;left:1095px;top:1271px;width:115px;height:24px;background:#fff;"></div>
<div style="position:absolute;left:153.5px;width:2000px;text-align:center;top:1275.03px;font:normal normal 17.4px/19.993px 'Liberation Sans', sans-serif;color:#000;white-space:pre;">33</div>
<div style="position:absolute;left:1213px;top:1271px;width:115px;height:24px;background:#fff;"></div>
<div style="position:absolute;left:271.5px;width:2000px;text-align:center;top:1275.03px;font:normal normal 17.4px/19.993px 'Liberation Sans', sans-serif;color:#000;white-space:pre;">$609</div>
<div style="position:absolute;left:1331px;top:1271px;width:114px;height:24px;background:#fff;"></div>
<div style="position:absolute;left:389.0px;width:2000px;text-align:center;top:1275.03px;font:normal normal 17.4px/19.993px 'Liberation Sans', sans-serif;color:#000;white-space:pre;">$637</div>
<div style="position:absolute;left:1448px;top:1271px;width:114px;height:24px;background:#fff;"></div>
<div style="position:absolute;left:506.0px;width:2000px;text-align:center;top:1275.03px;font:normal normal 17.4px/19.993px 'Liberation Sans', sans-serif;color:#000;white-space:pre;">103.67%</div>
<div style="position:absolute;left:155px;top:1298px;width:113px;height:25px;background:#fff;"></div>
<div style="position:absolute;left:-787.5px;width:2000px;text-align:center;top:1302.11px;font:normal normal 17.4px/19.993px 'Liberation Sans', sans-serif;color:#000;white-space:pre;">Apr 17</div>
<div style="position:absolute;left:271px;top:1298px;width:115px;height:25px;background:#fff;"></div>
<div style="position:absolute;left:-670.5px;width:2000px;text-align:center;top:1302.11px;font:normal normal 17.4px/19.993px 'Liberation Sans', sans-serif;color:#000;white-space:pre;">54</div>
<div style="position:absolute;left:389px;top:1298px;width:115px;height:25px;background:#fff;"></div>
<div style="position:absolute;left:-552.5px;width:2000px;text-align:center;top:1302.11px;font:normal normal 17.4px/19.993px 'Liberation Sans', sans-serif;color:#000;white-space:pre;">16</div>
<div style="position:absolute;left:507px;top:1298px;width:115px;height:25px;background:#fff;"></div>
<div style="position:absolute;left:-434.5px;width:2000px;text-align:center;top:1302.11px;font:normal normal 17.4px/19.993px 'Liberation Sans', sans-serif;color:#000;white-space:pre;">23</div>
<div style="position:absolute;left:625px;top:1298px;width:115px;height:25px;background:#fff;"></div>
<div style="position:absolute;left:-316.5px;width:2000px;text-align:center;top:1302.11px;font:normal normal 17.4px/19.993px 'Liberation Sans', sans-serif;color:#000;white-space:pre;">4.2</div>
<div style="position:absolute;left:743px;top:1298px;width:114px;height:25px;background:#fff;"></div>
<div style="position:absolute;left:-199.0px;width:2000px;text-align:center;top:1302.11px;font:normal normal 17.4px/19.993px 'Liberation Sans', sans-serif;color:#000;white-space:pre;">$1,678,343</div>
<div style="position:absolute;left:860px;top:1298px;width:115px;height:25px;background:#fff;"></div>
<div style="position:absolute;left:-81.5px;width:2000px;text-align:center;top:1302.11px;font:normal normal 17.4px/19.993px 'Liberation Sans', sans-serif;color:#000;white-space:pre;">$1,700,000</div>
<div style="position:absolute;left:978px;top:1298px;width:114px;height:25px;background:#fff;"></div>
<div style="position:absolute;left:36.0px;width:2000px;text-align:center;top:1302.11px;font:normal normal 17.4px/19.993px 'Liberation Sans', sans-serif;color:#000;white-space:pre;">$1,752,491</div>
<div style="position:absolute;left:1095px;top:1298px;width:115px;height:25px;background:#fff;"></div>
<div style="position:absolute;left:153.5px;width:2000px;text-align:center;top:1302.11px;font:normal normal 17.4px/19.993px 'Liberation Sans', sans-serif;color:#000;white-space:pre;">25</div>
<div style="position:absolute;left:1213px;top:1298px;width:115px;height:25px;background:#fff;"></div>
<div style="position:absolute;left:271.5px;width:2000px;text-align:center;top:1302.11px;font:normal normal 17.4px/19.993px 'Liberation Sans', sans-serif;color:#000;white-space:pre;">$596</div>
<div style="position:absolute;left:1331px;top:1298px;width:114px;height:25px;background:#fff;"></div>
<div style="position:absolute;left:389.0px;width:2000px;text-align:center;top:1302.11px;font:normal normal 17.4px/19.993px 'Liberation Sans', sans-serif;color:#000;white-space:pre;">$630</div>
<div style="position:absolute;left:1448px;top:1298px;width:114px;height:25px;background:#fff;"></div>
<div style="position:absolute;left:506.0px;width:2000px;text-align:center;top:1302.11px;font:normal normal 17.4px/19.993px 'Liberation Sans', sans-serif;color:#000;white-space:pre;">104.42%</div>
<div style="position:absolute;left:150px;top:1335px;width:1417px;height:184px;background:#000;"></div>
<div style="position:absolute;left:155px;top:1341px;width:1407px;height:39px;background:#418ade;"></div>
<div style="position:absolute;left:-140px;width:2000px;text-align:center;top:1340.60px;font:normal bold 34.7px/39.870px 'Liberation Sans', sans-serif;color:#fff;white-space:pre;">Market Trends</div>
<div style="position:absolute;left:155px;top:1385px;width:113px;height:43px;background:#fff;"></div>
<div style="position:absolute;left:-788.5px;width:2000px;text-align:center;top:1386.68px;font:normal bold 17.7px/20.337px 'Liberation Sans', sans-serif;color:#000;white-space:pre;">Month to</div>
<div style="position:absolute;left:-788.5px;width:2000px;text-align:center;top:1410.18px;font:normal bold 17.7px/20.337px 'Liberation Sans', sans-serif;color:#000;white-space:pre;">Month</div>
<div style="position:absolute;left:271px;top:1385px;width:115px;height:43px;background:#fff;"></div>
<div style="position:absolute;left:-671.5px;width:2000px;text-align:center;top:1398.68px;font:normal bold 17.7px/20.337px 'Liberation Sans', sans-serif;color:#000;white-space:pre;">Sold</div>
<div style="position:absolute;left:389px;top:1385px;width:115px;height:43px;background:#fff;"></div>
<div style="position:absolute;left:-553.5px;width:2000px;text-align:center;top:1398.68px;font:normal bold 17.7px/20.337px 'Liberation Sans', sans-serif;color:#000;white-space:pre;">%Change</div>
<div style="position:absolute;left:507px;top:1385px;width:115px;height:43px;background:#fff;"></div>
<div style="position:absolute;left:-435.5px;width:2000px;text-align:center;top:1386.68px;font:normal bold 17.7px/20.337px 'Liberation Sans', sans-serif;color:#000;white-space:pre;">Avg List</div>
<div style="position:absolute;left:-435.5px;width:2000px;text-align:center;top:1410.18px;font:normal bold 17.7px/20.337px 'Liberation Sans', sans-serif;color:#000;white-space:pre;">Price</div>
<div style="position:absolute;left:625px;top:1385px;width:115px;height:43px;background:#fff;"></div>
<div style="position:absolute;left:-317.5px;width:2000px;text-align:center;top:1398.68px;font:normal bold 17.7px/20.337px 'Liberation Sans', sans-serif;color:#000;white-space:pre;">% Change</div>
<div style="position:absolute;left:743px;top:1385px;width:114px;height:43px;background:#fff;"></div>
<div style="position:absolute;left:-200.0px;width:2000px;text-align:center;top:1386.68px;font:normal bold 17.7px/20.337px 'Liberation Sans', sans-serif;color:#000;white-space:pre;">Median Sale</div>
<div style="position:absolute;left:-200.0px;width:2000px;text-align:center;top:1410.18px;font:normal bold 17.7px/20.337px 'Liberation Sans', sans-serif;color:#000;white-space:pre;">Price</div>
<div style="position:absolute;left:860px;top:1385px;width:115px;height:43px;background:#fff;"></div>
<div style="position:absolute;left:-82.5px;width:2000px;text-align:center;top:1398.68px;font:normal bold 17.7px/20.337px 'Liberation Sans', sans-serif;color:#000;white-space:pre;">% Change</div>
<div style="position:absolute;left:978px;top:1385px;width:114px;height:43px;background:#fff;"></div>
<div style="position:absolute;left:35.0px;width:2000px;text-align:center;top:1386.68px;font:normal bold 17.7px/20.337px 'Liberation Sans', sans-serif;color:#000;white-space:pre;">Avg Sale</div>
<div style="position:absolute;left:35.0px;width:2000px;text-align:center;top:1410.18px;font:normal bold 17.7px/20.337px 'Liberation Sans', sans-serif;color:#000;white-space:pre;">Price</div>
<div style="position:absolute;left:1095px;top:1385px;width:115px;height:43px;background:#fff;"></div>
<div style="position:absolute;left:152.5px;width:2000px;text-align:center;top:1398.68px;font:normal bold 17.7px/20.337px 'Liberation Sans', sans-serif;color:#000;white-space:pre;">% Change</div>
<div style="position:absolute;left:1213px;top:1385px;width:115px;height:43px;background:#fff;"></div>
<div style="position:absolute;left:270.5px;width:2000px;text-align:center;top:1398.68px;font:normal bold 17.7px/20.337px 'Liberation Sans', sans-serif;color:#000;white-space:pre;">Avg DOM</div>
<div style="position:absolute;left:1331px;top:1385px;width:114px;height:43px;background:#fff;"></div>
<div style="position:absolute;left:388.0px;width:2000px;text-align:center;top:1398.68px;font:normal bold 17.7px/20.337px 'Liberation Sans', sans-serif;color:#000;white-space:pre;">% Change</div>
<div style="position:absolute;left:1448px;top:1385px;width:114px;height:43px;background:#fff;"></div>
<div style="position:absolute;left:505.0px;width:2000px;text-align:center;top:1386.68px;font:normal bold 17.7px/20.337px 'Liberation Sans', sans-serif;color:#000;white-space:pre;">Sale Price/</div>
<div style="position:absolute;left:505.0px;width:2000px;text-align:center;top:1410.18px;font:normal bold 17.7px/20.337px 'Liberation Sans', sans-serif;color:#000;white-space:pre;">List Price</div>
<div style="position:absolute;left:155px;top:1431px;width:1407px;height:2px;background:#fff;"></div>
<div style="position:absolute;left:155px;top:1436px;width:113px;height:23px;background:#fff;"></div>
<div style="position:absolute;left:-787.5px;width:2000px;text-align:center;top:1439.45px;font:normal normal 17.4px/19.993px 'Liberation Sans', sans-serif;color:#000;white-space:pre;">Apr 17</div>
<div style="position:absolute;left:271px;top:1436px;width:115px;height:23px;background:#fff;"></div>
<div style="position:absolute;left:-670.5px;width:2000px;text-align:center;top:1439.45px;font:normal normal 17.4px/19.993px 'Liberation Sans', sans-serif;color:#000;white-space:pre;">23</div>
<div style="position:absolute;left:389px;top:1436px;width:115px;height:23px;background:#fff;"></div>
<div style="position:absolute;left:-552.5px;width:2000px;text-align:center;top:1439.45px;font:normal normal 17.4px/19.993px 'Liberation Sans', sans-serif;color:#000;white-space:pre;">15.00%</div>
<div style="position:absolute;left:507px;top:1436px;width:115px;height:23px;background:#fff;"></div>
<div style="position:absolute;left:-434.5px;width:2000px;text-align:center;top:1439.45px;font:normal normal 17.4px/19.993px 'Liberation Sans', sans-serif;color:#000;white-space:pre;">$1,678,343</div>
<div style="position:absolute;left:625px;top:1436px;width:115px;height:23px;background:#fff;"></div>
<div style="position:absolute;left:-316.5px;width:2000px;text-align:center;top:1439.45px;font:normal normal 17.4px/19.993px 'Liberation Sans', sans-serif;color:#000;white-space:pre;">8.71%</div>
<div style="position:absolute;left:743px;top:1436px;width:114px;height:23px;background:#fff;"></div>
<div style="position:absolute;left:-199.0px;width:2000px;text-align:center;top:1439.45px;font:normal normal 17.4px/19.993px 'Liberation Sans', sans-serif;color:#000;white-space:pre;">$1,700,000</div>
<div style="position:absolute;left:860px;top:1436px;width:115px;height:23px;background:#fff;"></div>
<div style="position:absolute;left:-81.5px;width:2000px;text-align:center;top:1439.45px;font:normal normal 17.4px/19.993px 'Liberation Sans', sans-serif;color:#000;white-space:pre;">8.80%</div>
<div style="position:absolute;left:978px;top:1436px;width:114px;height:23px;background:#fff;"></div>
<div style="position:absolute;left:36.0px;width:2000px;text-align:center;top:1439.45px;font:normal normal 17.4px/19.993px 'Liberation Sans', sans-serif;color:#000;white-space:pre;">$1,752,491</div>
<div style="position:absolute;left:1095px;top:1436px;width:115px;height:23px;background:#fff;"></div>
<div style="position:absolute;left:153.5px;width:2000px;text-align:center;top:1439.45px;font:normal normal 17.4px/19.993px 'Liberation Sans', sans-serif;color:#000;white-space:pre;">11.16%</div>
<div style="position:absolute;left:1213px;top:1436px;width:115px;height:23px;background:#fff;"></div>
<div style="position:absolute;left:271.5px;width:2000px;text-align:center;top:1439.45px;font:normal normal 17.4px/19.993px 'Liberation Sans', sans-serif;color:#000;white-space:pre;">25</div>
<div style="position:absolute;left:1331px;top:1436px;width:114px;height:23px;background:#fff;"></div>
<div style="position:absolute;left:389.0px;width:2000px;text-align:center;top:1439.45px;font:normal normal 17.4px/19.993px 'Liberation Sans', sans-serif;color:#000;white-space:pre;">29.63%</div>
<div style="position:absolute;left:1448px;top:1436px;width:114px;height:23px;background:#fff;"></div>
<div style="position:absolute;left:506.0px;width:2000px;text-align:center;top:1439.45px;font:normal normal 17.4px/19.993px 'Liberation Sans', sans-serif;color:#000;white-space:pre;">104.42%</div>
<div style="position:absolute;left:155px;top:1462px;width:113px;height:24px;background:#fff;"></div>
<div style="position:absolute;left:-787.5px;width:2000px;text-align:center;top:1465.45px;font:normal normal 17.4px/19.993px 'Liberation Sans', sans-serif;color:#000;white-space:pre;">Apr 16</div>
<div style="position:absolute;left:271px;top:1462px;width:115px;height:24px;background:#fff;"></div>
<div style="position:absolute;left:-670.5px;width:2000px;text-align:center;top:1465.45px;font:normal normal 17.4px/19.993px 'Liberation Sans', sans-serif;color:#000;white-space:pre;">20</div>
<div style="position:absolute;left:389px;top:1462px;width:115px;height:24px;background:#fff;"></div>
<div style="position:absolute;left:-552.5px;width:2000px;text-align:center;top:1465.45px;font:normal normal 17.4px/19.993px 'Liberation Sans', sans-serif;color:#000;white-space:pre;">-35.48%</div>
<div style="position:absolute;left:507px;top:1462px;width:115px;height:24px;background:#fff;"></div>
<div style="position:absolute;left:-434.5px;width:2000px;text-align:center;top:1465.45px;font:normal normal 17.4px/19.993px 'Liberation Sans', sans-serif;color:#000;white-space:pre;">$1,543,900</div>
<div style="position:absolute;left:625px;top:1462px;width:115px;height:24px;background:#fff;"></div>
<div style="position:absolute;left:-316.5px;width:2000px;text-align:center;top:1465.45px;font:normal normal 17.4px/19.993px 'Liberation Sans', sans-serif;color:#000;white-space:pre;">9.80%</div>
<div style="position:absolute;left:743px;top:1462px;width:114px;height:24px;background:#fff;"></div>
<div style="position:absolute;left:-199.0px;width:2000px;text-align:center;top:1465.45px;font:normal normal 17.4px/19.993px 'Liberation Sans', sans-serif;color:#000;white-space:pre;">$1,562,500</div>
<div style="position:absolute;left:860px;top:1462px;width:115px;height:24px;background:#fff;"></div>
<div style="position:absolute;left:-81.5px;width:2000px;text-align:center;top:1465.45px;font:normal normal 17.4px/19.993px 'Liberation Sans', sans-serif;color:#000;white-space:pre;">15.74%</div>
<div style="position:absolute;left:978px;top:1462px;width:114px;height:24px;background:#fff;"></div>
<div style="position:absolute;left:36.0px;width:2000px;text-align:center;top:1465.45px;font:normal normal 17.4px/19.993px 'Liberation Sans', sans-serif;color:#000;white-space:pre;">$1,576,542</div>
<div style="position:absolute;left:1095px;top:1462px;width:115px;height:24px;background:#fff;"></div>
<div style="position:absolute;left:153.5px;width:2000px;text-align:center;top:1465.45px;font:normal normal 17.4px/19.993px 'Liberation Sans', sans-serif;color:#000;white-space:pre;">8.19%</div>
<div style="position:absolute;left:1213px;top:1462px;width:115px;height:24px;background:#fff;"></div>
<div style="position:absolute;left:271.5px;width:2000px;text-align:center;top:1465.45px;font:normal normal 17.4px/19.993px 'Liberation Sans', sans-serif;color:#000;white-space:pre;">19</div>
<div style="position:absolute;left:1331px;top:1462px;width:114px;height:24px;background:#fff;"></div>
<div style="position:absolute;left:389.0px;width:2000px;text-align:center;top:1465.45px;font:normal normal 17.4px/19.993px 'Liberation Sans', sans-serif;color:#000;white-space:pre;">-7.92%</div>
<div style="position:absolute;left:1448px;top:1462px;width:114px;height:24px;background:#fff;"></div>
<div style="position:absolute;left:506.0px;width:2000px;text-align:center;top:1465.45px;font:normal normal 17.4px/19.993px 'Liberation Sans', sans-serif;color:#000;white-space:pre;">102.11%</div>
<div style="position:absolute;left:155px;top:1489px;width:113px;height:25px;background:#fff;"></div>
<div style="position:absolute;left:-787.5px;width:2000px;text-align:center;top:1492.45px;font:normal normal 17.4px/19.993px 'Liberation Sans', sans-serif;color:#000;white-space:pre;">Apr 15</div>
<div style="position:absolute;left:271px;top:1489px;width:115px;height:25px;background:#fff;"></div>
<div style="position:absolute;left:-670.5px;width:2000px;text-align:center;top:1492.45px;font:normal normal 17.4px/19.993px 'Liberation Sans', sans-serif;color:#000;white-space:pre;">31</div>
<div style="position:absolute;left:389px;top:1489px;width:115px;height:25px;background:#fff;"></div>
<div style="position:absolute;left:-552.5px;width:2000px;text-align:center;top:1492.45px;font:normal normal 17.4px/19.993px 'Liberation Sans', sans-serif;color:#000;white-space:pre;">24.00%</div>
<div style="position:absolute;left:507px;top:1489px;width:115px;height:25px;background:#fff;"></div>
<div style="position:absolute;left:-434.5px;width:2000px;text-align:center;top:1492.45px;font:normal normal 17.4px/19.993px 'Liberation Sans', sans-serif;color:#000;white-space:pre;">$1,406,097</div>
<div style="position:absolute;left:625px;top:1489px;width:115px;height:25px;background:#fff;"></div>
<div style="position:absolute;left:-316.5px;width:2000px;text-align:center;top:1492.45px;font:normal normal 17.4px/19.993px 'Liberation Sans', sans-serif;color:#000;white-space:pre;">1.74%</div>
<div style="position:absolute;left:743px;top:1489px;width:114px;height:25px;background:#fff;"></div>
<div style="position:absolute;left:-199.0px;width:2000px;text-align:center;top:1492.45px;font:normal normal 17.4px/19.993px 'Liberation Sans', sans-serif;color:#000;white-space:pre;">$1,350,000</div>
<div style="position:absolute;left:860px;top:1489px;width:115px;height:25px;background:#fff;"></div>
<div style="position:absolute;left:-81.5px;width:2000px;text-align:center;top:1492.45px;font:normal normal 17.4px/19.993px 'Liberation Sans', sans-serif;color:#000;white-space:pre;">3.85%</div>
<div style="position:absolute;left:978px;top:1489px;width:114px;height:25px;background:#fff;"></div>
<div style="position:absolute;left:36.0px;width:2000px;text-align:center;top:1492.45px;font:normal normal 17.4px/19.993px 'Liberation Sans', sans-serif;color:#000;white-space:pre;">$1,457,187</div>
<div style="position:absolute;left:1095px;top:1489px;width:115px;height:25px;background:#fff;"></div>
<div style="position:absolute;left:153.5px;width:2000px;text-align:center;top:1492.45px;font:normal normal 17.4px/19.993px 'Liberation Sans', sans-serif;color:#000;white-space:pre;">4.50%</div>
<div style="position:absolute;left:1213px;top:1489px;width:115px;height:25px;background:#fff;"></div>
<div style="position:absolute;left:271.5px;width:2000px;text-align:center;top:1492.45px;font:normal normal 17.4px/19.993px 'Liberation Sans', sans-serif;color:#000;white-space:pre;">21</div>
<div style="position:absolute;left:1331px;top:1489px;width:114px;height:25px;background:#fff;"></div>
<div style="position:absolute;left:389.0px;width:2000px;text-align:center;top:1492.45px;font:normal normal 17.4px/19.993px 'Liberation Sans', sans-serif;color:#000;white-space:pre;">-7.63%</div>
<div style="position:absolute;left:1448px;top:1489px;width:114px;height:25px;background:#fff;"></div>
<div style="position:absolute;left:506.0px;width:2000px;text-align:center;top:1492.45px;font:normal normal 17.4px/19.993px 'Liberation Sans', sans-serif;color:#000;white-space:pre;">103.63%</div>
<div style="position:absolute;left:150px;top:1525px;width:711px;height:37px;background:#000;"></div>
<div style="position:absolute;left:150px;top:1562px;width:710px;height:379px;background:#000;"></div>
<div style="position:absolute;left:155px;top:1530px;width:701px;height:29px;background:#418ade;"></div>
<div style="position:absolute;left:-494.5px;width:2000px;text-align:center;top:1528.29px;font:normal bold 26.2px/30.104px 'Liberation Sans', sans-serif;color:#fff;white-space:pre;">Sales Activity &amp; Price Trends</div>
<div style="position:absolute;left:155px;top:1562px;width:113px;height:49px;background:#fff;"></div>
<div style="position:absolute;left:-788.5px;width:2000px;text-align:center;top:1564.35px;font:normal bold 19.5px/22.405px 'Liberation Sans', sans-serif;color:#000;white-space:pre;">Price</div>
<div style="position:absolute;left:-788.5px;width:2000px;text-align:center;top:1590.35px;font:normal bold 19.5px/22.405px 'Liberation Sans', sans-serif;color:#000;white-space:pre;">Range</div>
<div style="position:absolute;left:271px;top:1562px;width:115px;height:49px;background:#fff;"></div>
<div style="position:absolute;left:-671.5px;width:2000px;text-align:center;top:1564.35px;font:normal bold 19.5px/22.405px 'Liberation Sans', sans-serif;color:#000;white-space:pre;">2017</div>
<div style="position:absolute;left:-671.5px;width:2000px;text-align:center;top:1590.35px;font:normal bold 19.5px/22.405px 'Liberation Sans', sans-serif;color:#000;white-space:pre;">units sold</div>
<div style="position:absolute;left:389px;top:1562px;width:115px;height:49px;background:#fff;"></div>
<div style="position:absolute;left:-553.5px;width:2000px;text-align:center;top:1564.35px;font:normal bold 19.5px/22.405px 'Liberation Sans', sans-serif;color:#000;white-space:pre;">2016</div>
<div style="position:absolute;left:-553.5px;width:2000px;text-align:center;top:1590.35px;font:normal bold 19.5px/22.405px 'Liberation Sans', sans-serif;color:#000;white-space:pre;">units sold</div>
<div style="position:absolute;left:507px;top:1562px;width:115px;height:49px;background:#fff;"></div>
<div style="position:absolute;left:-435.5px;width:2000px;text-align:center;top:1564.35px;font:normal bold 19.5px/22.405px 'Liberation Sans', sans-serif;color:#000;white-space:pre;">2015</div>
<div style="position:absolute;left:-435.5px;width:2000px;text-align:center;top:1590.35px;font:normal bold 19.5px/22.405px 'Liberation Sans', sans-serif;color:#000;white-space:pre;">units sold</div>
<div style="position:absolute;left:625px;top:1562px;width:115px;height:49px;background:#fff;"></div>
<div style="position:absolute;left:-317.5px;width:2000px;text-align:center;top:1564.35px;font:normal bold 19.5px/22.405px 'Liberation Sans', sans-serif;color:#000;white-space:pre;">2014</div>
<div style="position:absolute;left:-317.5px;width:2000px;text-align:center;top:1590.35px;font:normal bold 19.5px/22.405px 'Liberation Sans', sans-serif;color:#000;white-space:pre;">units sold</div>
<div style="position:absolute;left:743px;top:1562px;width:114px;height:49px;background:#fff;"></div>
<div style="position:absolute;left:-200.0px;width:2000px;text-align:center;top:1564.35px;font:normal bold 19.5px/22.405px 'Liberation Sans', sans-serif;color:#000;white-space:pre;">2013</div>
<div style="position:absolute;left:-200.0px;width:2000px;text-align:center;top:1590.35px;font:normal bold 19.5px/22.405px 'Liberation Sans', sans-serif;color:#000;white-space:pre;">units sold</div>
<div style="position:absolute;left:155px;top:1613px;width:702px;height:2px;background:#fff;"></div>
<div style="position:absolute;left:155px;top:1618px;width:113px;height:22px;background:#fff;"></div>
<div style="position:absolute;left:155px;top:1618px;width:113px;height:22px;overflow:hidden">
<div style="position:absolute;left:2px;top:-1.23px;font:normal normal 19.7px/22.635px 'Liberation Sans', sans-serif;color:#000;white-space:pre;">&lt; 300k</div>
</div>
<div style="position:absolute;left:271px;top:1618px;width:115px;height:22px;background:#fff;"></div>
<div style="position:absolute;left:-670.0px;width:2000px;text-align:center;top:1615.78px;font:normal normal 20.8px/23.899px 'Liberation Sans', sans-serif;color:#000;white-space:pre;"></div>
<div style="position:absolute;left:389px;top:1618px;width:115px;height:22px;background:#fff;"></div>
<div style="position:absolute;left:-552.0px;width:2000px;text-align:center;top:1615.78px;font:normal normal 20.8px/23.899px 'Liberation Sans', sans-serif;color:#000;white-space:pre;"></div>
<div style="position:absolute;left:507px;top:1618px;width:115px;height:22px;background:#fff;"></div>
<div style="position:absolute;left:-434.0px;width:2000px;text-align:center;top:1615.78px;font:normal normal 20.8px/23.899px 'Liberation Sans', sans-serif;color:#000;white-space:pre;"></div>
<div style="position:absolute;left:625px;top:1618px;width:115px;height:22px;background:#fff;"></div>
<div style="position:absolute;left:-316.0px;width:2000px;text-align:center;top:1615.78px;font:normal normal 20.8px/23.899px 'Liberation Sans', sans-serif;color:#000;white-space:pre;"></div>
<div style="position:absolute;left:743px;top:1618px;width:114px;height:22px;background:#fff;"></div>
<div style="position:absolute;left:-198.5px;width:2000px;text-align:center;top:1615.78px;font:normal normal 20.8px/23.899px 'Liberation Sans', sans-serif;color:#000;white-space:pre;">2</div>
<div style="position:absolute;left:155px;top:1643px;width:113px;height:24px;background:#fff;"></div>
<div style="position:absolute;left:155px;top:1643px;width:113px;height:24px;overflow:hidden">
<div style="position:absolute;left:2px;top:0.67px;font:normal normal 19.7px/22.635px 'Liberation Sans', sans-serif;color:#000;white-space:pre;">$300k-399k</div>
</div>
<div style="position:absolute;left:271px;top:1643px;width:115px;height:24px;background:#fff;"></div>
<div style="position:absolute;left:-670.0px;width:2000px;text-align:center;top:1642.68px;font:normal normal 20.8px/23.899px 'Liberation Sans', sans-serif;color:#000;white-space:pre;"></div>
<div style="position:absolute;left:389px;top:1643px;width:115px;height:24px;background:#fff;"></div>
<div style="position:absolute;left:-552.0px;width:2000px;text-align:center;top:1642.68px;font:normal normal 20.8px/23.899px 'Liberation Sans', sans-serif;color:#000;white-space:pre;"></div>
<div style="position:absolute;left:507px;top:1643px;width:115px;height:24px;background:#fff;"></div>
<div style="position:absolute;left:-434.0px;width:2000px;text-align:center;top:1642.68px;font:normal normal 20.8px/23.899px 'Liberation Sans', sans-serif;color:#000;white-space:pre;"></div>
<div style="position:absolute;left:625px;top:1643px;width:115px;height:24px;background:#fff;"></div>
<div style="position:absolute;left:-316.0px;width:2000px;text-align:center;top:1642.68px;font:normal normal 20.8px/23.899px 'Liberation Sans', sans-serif;color:#000;white-space:pre;"></div>
<div style="position:absolute;left:743px;top:1643px;width:114px;height:24px;background:#fff;"></div>
<div style="position:absolute;left:-198.5px;width:2000px;text-align:center;top:1642.68px;font:normal normal 20.8px/23.899px 'Liberation Sans', sans-serif;color:#000;white-space:pre;"></div>
<div style="position:absolute;left:155px;top:1670px;width:113px;height:24px;background:#fff;"></div>
<div style="position:absolute;left:155px;top:1670px;width:113px;height:24px;overflow:hidden">
<div style="position:absolute;left:2px;top:0.57px;font:normal normal 19.7px/22.635px 'Liberation Sans', sans-serif;color:#000;white-space:pre;">$400k-499k</div>
</div>
<div style="position:absolute;left:271px;top:1670px;width:115px;height:24px;background:#fff;"></div>
<div style="position:absolute;left:-670.0px;width:2000px;text-align:center;top:1669.58px;font:normal normal 20.8px/23.899px 'Liberation Sans', sans-serif;color:#000;white-space:pre;"></div>
<div style="position:absolute;left:389px;top:1670px;width:115px;height:24px;background:#fff;"></div>
<div style="position:absolute;left:-552.0px;width:2000px;text-align:center;top:1669.58px;font:normal normal 20.8px/23.899px 'Liberation Sans', sans-serif;color:#000;white-space:pre;"></div>
<div style="position:absolute;left:507px;top:1670px;width:115px;height:24px;background:#fff;"></div>
<div style="position:absolute;left:-434.0px;width:2000px;text-align:center;top:1669.58px;font:normal normal 20.8px/23.899px 'Liberation Sans', sans-serif;color:#000;white-space:pre;"></div>
<div style="position:absolute;left:625px;top:1670px;width:115px;height:24px;background:#fff;"></div>
<div style="position:absolute;left:-316.0px;width:2000px;text-align:center;top:1669.58px;font:normal normal 20.8px/23.899px 'Liberation Sans', sans-serif;color:#000;white-space:pre;"></div>
<div style="position:absolute;left:743px;top:1670px;width:114px;height:24px;background:#fff;"></div>
<div style="position:absolute;left:-198.5px;width:2000px;text-align:center;top:1669.58px;font:normal normal 20.8px/23.899px 'Liberation Sans', sans-serif;color:#000;white-space:pre;">1</div>
<div style="position:absolute;left:155px;top:1697px;width:113px;height:24px;background:#fff;"></div>
<div style="position:absolute;left:155px;top:1697px;width:113px;height:24px;overflow:hidden">
<div style="position:absolute;left:2px;top:0.47px;font:normal normal 19.7px/22.635px 'Liberation Sans', sans-serif;color:#000;white-space:pre;">$500k-599k</div>
</div>
<div style="position:absolute;left:271px;top:1697px;width:115px;height:24px;background:#fff;"></div>
<div style="position:absolute;left:-670.0px;width:2000px;text-align:center;top:1696.48px;font:normal normal 20.8px/23.899px 'Liberation Sans', sans-serif;color:#000;white-space:pre;"></div>
<div style="position:absolute;left:389px;top:1697px;width:115px;height:24px;background:#fff;"></div>
<div style="position:absolute;left:-552.0px;width:2000px;text-align:center;top:1696.48px;font:normal normal 20.8px/23.899px 'Liberation Sans', sans-serif;color:#000;white-space:pre;"></div>
<div style="position:absolute;left:507px;top:1697px;width:115px;height:24px;background:#fff;"></div>
<div style="position:absolute;left:-434.0px;width:2000px;text-align:center;top:1696.48px;font:normal normal 20.8px/23.899px 'Liberation Sans', sans-serif;color:#000;white-space:pre;">1</div>
<div style="position:absolute;left:625px;top:1697px;width:115px;height:24px;background:#fff;"></div>
<div style="position:absolute;left:-316.0px;width:2000px;text-align:center;top:1696.48px;font:normal normal 20.8px/23.899px 'Liberation Sans', sans-serif;color:#000;white-space:pre;"></div>
<div style="position:absolute;left:743px;top:1697px;width:114px;height:24px;background:#fff;"></div>
<div style="position:absolute;left:-198.5px;width:2000px;text-align:center;top:1696.48px;font:normal normal 20.8px/23.899px 'Liberation Sans', sans-serif;color:#000;white-space:pre;"></div>
<div style="position:absolute;left:155px;top:1724px;width:113px;height:24px;background:#fff;"></div>
<div style="position:absolute;left:155px;top:1724px;width:113px;height:24px;overflow:hidden">
<div style="position:absolute;left:2px;top:0.37px;font:normal normal 19.7px/22.635px 'Liberation Sans', sans-serif;color:#000;white-space:pre;">$600k-699k</div>
</div>
<div style="position:absolute;left:271px;top:1724px;width:115px;height:24px;background:#fff;"></div>
<div style="position:absolute;left:-670.0px;width:2000px;text-align:center;top:1723.38px;font:normal normal 20.8px/23.899px 'Liberation Sans', sans-serif;color:#000;white-space:pre;"></div>
<div style="position:absolute;left:389px;top:1724px;width:115px;height:24px;background:#fff;"></div>
<div style="position:absolute;left:-552.0px;width:2000px;text-align:center;top:1723.38px;font:normal normal 20.8px/23.899px 'Liberation Sans', sans-serif;color:#000;white-space:pre;"></div>
<div style="position:absolute;left:507px;top:1724px;width:115px;height:24px;background:#fff;"></div>
<div style="position:absolute;left:-434.0px;width:2000px;text-align:center;top:1723.38px;font:normal normal 20.8px/23.899px 'Liberation Sans', sans-serif;color:#000;white-space:pre;"></div>
<div style="position:absolute;left:625px;top:1724px;width:115px;height:24px;background:#fff;"></div>
<div style="position:absolute;left:-316.0px;width:2000px;text-align:center;top:1723.38px;font:normal normal 20.8px/23.899px 'Liberation Sans', sans-serif;color:#000;white-space:pre;"></div>
<div style="position:absolute;left:743px;top:1724px;width:114px;height:24px;background:#fff;"></div>
<div style="position:absolute;left:-198.5px;width:2000px;text-align:center;top:1723.38px;font:normal normal 20.8px/23.899px 'Liberation Sans', sans-serif;color:#000;white-space:pre;">2</div>
<div style="position:absolute;left:155px;top:1751px;width:113px;height:24px;background:#fff;"></div>
<div style="position:absolute;left:155px;top:1751px;width:113px;height:24px;overflow:hidden">
<div style="position:absolute;left:2px;top:0.27px;font:normal normal 19.7px/22.635px 'Liberation Sans', sans-serif;color:#000;white-space:pre;">$700k-799k</div>
</div>
<div style="position:absolute;left:271px;top:1751px;width:115px;height:24px;background:#fff;"></div>
<div style="position:absolute;left:-670.0px;width:2000px;text-align:center;top:1750.28px;font:normal normal 20.8px/23.899px 'Liberation Sans', sans-serif;color:#000;white-space:pre;">1</div>
<div style="position:absolute;left:389px;top:1751px;width:115px;height:24px;background:#fff;"></div>
<div style="position:absolute;left:-552.0px;width:2000px;text-align:center;top:1750.28px;font:normal normal 20.8px/23.899px 'Liberation Sans', sans-serif;color:#000;white-space:pre;"></div>
<div style="position:absolute;left:507px;top:1751px;width:115px;height:24px;background:#fff;"></div>
<div style="position:absolute;left:-434.0px;width:2000px;text-align:center;top:1750.28px;font:normal normal 20.8px/23.899px 'Liberation Sans', sans-serif;color:#000;white-space:pre;">3</div>
<div style="position:absolute;left:625px;top:1751px;width:115px;height:24px;background:#fff;"></div>
<div style="position:absolute;left:-316.0px;width:2000px;text-align:center;top:1750.28px;font:normal normal 20.8px/23.899px 'Liberation Sans', sans-serif;color:#000;white-space:pre;">6</div>
<div style="position:absolute;left:743px;top:1751px;width:114px;height:24px;background:#fff;"></div>
<div style="position:absolute;left:-198.5px;width:2000px;text-align:center;top:1750.28px;font:normal normal 20.8px/23.899px 'Liberation Sans', sans-serif;color:#000;white-space:pre;">4</div>
<div style="position:absolute;left:155px;top:1778px;width:113px;height:24px;background:#fff;"></div>
<div style="position:absolute;left:155px;top:1778px;width:113px;height:24px;overflow:hidden">
<div style="position:absolute;left:2px;top:0.17px;font:normal normal 19.7px/22.635px 'Liberation Sans', sans-serif;color:#000;white-space:pre;">$800k-899k</div>
</div>
<div style="position:absolute;left:271px;top:1778px;width:115px;height:24px;background:#fff;"></div>
<div style="position:absolute;left:-670.0px;width:2000px;text-align:center;top:1777.18px;font:normal normal 20.8px/23.899px 'Liberation Sans', sans-serif;color:#000;white-space:pre;"></div>
<div style="position:absolute;left:389px;top:1778px;width:115px;height:24px;background:#fff;"></div>
<div style="position:absolute;left:-552.0px;width:2000px;text-align:center;top:1777.18px;font:normal normal 20.8px/23.899px 'Liberation Sans', sans-serif;color:#000;white-space:pre;">2</div>
<div style="position:absolute;left:507px;top:1778px;width:115px;height:24px;background:#fff;"></div>
<div style="position:absolute;left:-434.0px;width:2000px;text-align:center;top:1777.18px;font:normal normal 20.8px/23.899px 'Liberation Sans', sans-serif;color:#000;white-space:pre;">3</div>
<div style="position:absolute;left:625px;top:1778px;width:115px;height:24px;background:#fff;"></div>
<div style="position:absolute;left:-316.0px;width:2000px;text-align:center;top:1777.18px;font:normal normal 20.8px/23.899px 'Liberation Sans', sans-serif;color:#000;white-space:pre;">6</div>
<div style="position:absolute;left:743px;top:1778px;width:114px;height:24px;background:#fff;"></div>
<div style="position:absolute;left:-198.5px;width:2000px;text-align:center;top:1777.18px;font:normal normal 20.8px/23.899px 'Liberation Sans', sans-serif;color:#000;white-space:pre;">10</div>
<div style="position:absolute;left:155px;top:1805px;width:113px;height:24px;background:#fff;"></div>
<div style="position:absolute;left:155px;top:1805px;width:113px;height:24px;overflow:hidden">
<div style="position:absolute;left:2px;top:0.07px;font:normal normal 19.7px/22.635px 'Liberation Sans', sans-serif;color:#000;white-space:pre;">$900k-999k</div>
</div>
<div style="position:absolute;left:271px;top:1805px;width:115px;height:24px;background:#fff;"></div>
<div style="position:absolute;left:-670.0px;width:2000px;text-align:center;top:1804.08px;font:normal normal 20.8px/23.899px 'Liberation Sans', sans-serif;color:#000;white-space:pre;">2</div>
<div style="position:absolute;left:389px;top:1805px;width:115px;height:24px;background:#fff;"></div>
<div style="position:absolute;left:-552.0px;width:2000px;text-align:center;top:1804.08px;font:normal normal 20.8px/23.899px 'Liberation Sans', sans-serif;color:#000;white-space:pre;">3</div>
<div style="position:absolute;left:507px;top:1805px;width:115px;height:24px;background:#fff;"></div>
<div style="position:absolute;left:-434.0px;width:2000px;text-align:center;top:1804.08px;font:normal normal 20.8px/23.899px 'Liberation Sans', sans-serif;color:#000;white-space:pre;">9</div>
<div style="position:absolute;left:625px;top:1805px;width:115px;height:24px;background:#fff;"></div>
<div style="position:absolute;left:-316.0px;width:2000px;text-align:center;top:1804.08px;font:normal normal 20.8px/23.899px 'Liberation Sans', sans-serif;color:#000;white-space:pre;">8</div>
<div style="position:absolute;left:743px;top:1805px;width:114px;height:24px;background:#fff;"></div>
<div style="position:absolute;left:-198.5px;width:2000px;text-align:center;top:1804.08px;font:normal normal 20.8px/23.899px 'Liberation Sans', sans-serif;color:#000;white-space:pre;">8</div>
<div style="position:absolute;left:155px;top:1832px;width:113px;height:24px;background:#fff;"></div>
<div style="position:absolute;left:155px;top:1832px;width:113px;height:24px;overflow:hidden">
<div style="position:absolute;left:2px;top:-0.03px;font:normal normal 19.7px/22.635px 'Liberation Sans', sans-serif;color:#000;white-space:pre;">$1m-1.49m</div>
</div>
<div style="position:absolute;left:271px;top:1832px;width:115px;height:24px;background:#fff;"></div>
<div style="position:absolute;left:-670.0px;width:2000px;text-align:center;top:1830.98px;font:normal normal 20.8px/23.899px 'Liberation Sans', sans-serif;color:#000;white-space:pre;">22</div>
<div style="position:absolute;left:389px;top:1832px;width:115px;height:24px;background:#fff;"></div>
<div style="position:absolute;left:-552.0px;width:2000px;text-align:center;top:1830.98px;font:normal normal 20.8px/23.899px 'Liberation Sans', sans-serif;color:#000;white-space:pre;">16</div>
<div style="position:absolute;left:507px;top:1832px;width:115px;height:24px;background:#fff;"></div>
<div style="position:absolute;left:-434.0px;width:2000px;text-align:center;top:1830.98px;font:normal normal 20.8px/23.899px 'Liberation Sans', sans-serif;color:#000;white-space:pre;">35</div>
<div style="position:absolute;left:625px;top:1832px;width:115px;height:24px;background:#fff;"></div>
<div style="position:absolute;left:-316.0px;width:2000px;text-align:center;top:1830.98px;font:normal normal 20.8px/23.899px 'Liberation Sans', sans-serif;color:#000;white-space:pre;">29</div>
<div style="position:absolute;left:743px;top:1832px;width:114px;height:24px;background:#fff;"></div>
<div style="position:absolute;left:-198.5px;width:2000px;text-align:center;top:1830.98px;font:normal normal 20.8px/23.899px 'Liberation Sans', sans-serif;color:#000;white-space:pre;">20</div>
<div style="position:absolute;left:155px;top:1859px;width:113px;height:24px;background:#fff;"></div>
<div style="position:absolute;left:155px;top:1859px;width:113px;height:24px;overflow:hidden">
<div style="position:absolute;left:2px;top:-0.13px;font:normal normal 19.7px/22.635px 'Liberation Sans', sans-serif;color:#000;white-space:pre;">$1.5m-1.99m</div>
</div>
<div style="position:absolute;left:271px;top:1859px;width:115px;height:24px;background:#fff;"></div>
<div style="position:absolute;left:-670.0px;width:2000px;text-align:center;top:1857.88px;font:normal normal 20.8px/23.899px 'Liberation Sans', sans-serif;color:#000;white-space:pre;">16</div>
<div style="position:absolute;left:389px;top:1859px;width:115px;height:24px;background:#fff;"></div>
<div style="position:absolute;left:-552.0px;width:2000px;text-align:center;top:1857.88px;font:normal normal 20.8px/23.899px 'Liberation Sans', sans-serif;color:#000;white-space:pre;">13</div>
<div style="position:absolute;left:507px;top:1859px;width:115px;height:24px;background:#fff;"></div>
<div style="position:absolute;left:-434.0px;width:2000px;text-align:center;top:1857.88px;font:normal normal 20.8px/23.899px 'Liberation Sans', sans-serif;color:#000;white-space:pre;">16</div>
<div style="position:absolute;left:625px;top:1859px;width:115px;height:24px;background:#fff;"></div>
<div style="position:absolute;left:-316.0px;width:2000px;text-align:center;top:1857.88px;font:normal normal 20.8px/23.899px 'Liberation Sans', sans-serif;color:#000;white-space:pre;">10</div>
<div style="position:absolute;left:743px;top:1859px;width:114px;height:24px;background:#fff;"></div>
<div style="position:absolute;left:-198.5px;width:2000px;text-align:center;top:1857.88px;font:normal normal 20.8px/23.899px 'Liberation Sans', sans-serif;color:#000;white-space:pre;">13</div>
<div style="position:absolute;left:155px;top:1886px;width:113px;height:23px;background:#fff;"></div>
<div style="position:absolute;left:155px;top:1886px;width:113px;height:23px;overflow:hidden">
<div style="position:absolute;left:2px;top:-0.23px;font:normal normal 19.7px/22.635px 'Liberation Sans', sans-serif;color:#000;white-space:pre;">$2m +</div>
</div>
<div style="position:absolute;left:271px;top:1886px;width:115px;height:23px;background:#fff;"></div>
<div style="position:absolute;left:-670.0px;width:2000px;text-align:center;top:1884.78px;font:normal normal 20.8px/23.899px 'Liberation Sans', sans-serif;color:#000;white-space:pre;">11</div>
<div style="position:absolute;left:389px;top:1886px;width:115px;height:23px;background:#fff;"></div>
<div style="position:absolute;left:-552.0px;width:2000px;text-align:center;top:1884.78px;font:normal normal 20.8px/23.899px 'Liberation Sans', sans-serif;color:#000;white-space:pre;">9</div>
<div style="position:absolute;left:507px;top:1886px;width:115px;height:23px;background:#fff;"></div>
<div style="position:absolute;left:-434.0px;width:2000px;text-align:center;top:1884.78px;font:normal normal 20.8px/23.899px 'Liberation Sans', sans-serif;color:#000;white-space:pre;">10</div>
<div style="position:absolute;left:625px;top:1886px;width:115px;height:23px;background:#fff;"></div>
<div style="position:absolute;left:-316.0px;width:2000px;text-align:center;top:1884.78px;font:normal normal 20.8px/23.899px 'Liberation Sans', sans-serif;color:#000;white-space:pre;">3</div>
<div style="position:absolute;left:743px;top:1886px;width:114px;height:23px;background:#fff;"></div>
<div style="position:absolute;left:-198.5px;width:2000px;text-align:center;top:1884.78px;font:normal normal 20.8px/23.899px 'Liberation Sans', sans-serif;color:#000;white-space:pre;">4</div>
<div style="position:absolute;left:155px;top:1914px;width:113px;height:22px;background:#fff;"></div>
<div style="position:absolute;left:158px;top:1911.67px;font:normal bold 19.7px/22.635px 'Liberation Sans', sans-serif;color:#000;white-space:pre;">Totals:</div>
<div style="position:absolute;left:271px;top:1914px;width:115px;height:22px;background:#fff;"></div>
<div style="position:absolute;left:-670.0px;width:2000px;text-align:center;top:1910.48px;font:normal normal 20.8px/23.899px 'Liberation Sans', sans-serif;color:#000;white-space:pre;">52</div>
<div style="position:absolute;left:389px;top:1914px;width:115px;height:22px;background:#fff;"></div>
<div style="position:absolute;left:-552.0px;width:2000px;text-align:center;top:1910.48px;font:normal normal 20.8px/23.899px 'Liberation Sans', sans-serif;color:#000;white-space:pre;">43</div>
<div style="position:absolute;left:507px;top:1914px;width:115px;height:22px;background:#fff;"></div>
<div style="position:absolute;left:-434.0px;width:2000px;text-align:center;top:1910.48px;font:normal normal 20.8px/23.899px 'Liberation Sans', sans-serif;color:#000;white-space:pre;">77</div>
<div style="position:absolute;left:625px;top:1914px;width:115px;height:22px;background:#fff;"></div>
<div style="position:absolute;left:-316.0px;width:2000px;text-align:center;top:1910.48px;font:normal normal 20.8px/23.899px 'Liberation Sans', sans-serif;color:#000;white-space:pre;">62</div>
<div style="position:absolute;left:743px;top:1914px;width:114px;height:22px;background:#fff;"></div>
<div style="position:absolute;left:-198.5px;width:2000px;text-align:center;top:1910.48px;font:normal normal 20.8px/23.899px 'Liberation Sans', sans-serif;color:#000;white-space:pre;">64</div>
<div style="position:absolute;left:876px;top:1525px;width:689px;height:413px;background:#000;"></div>
<div style="position:absolute;left:880px;top:1529px;width:681px;height:405px;background:#fff;"></div>
<div style="position:absolute;left:895px;top:1539.91px;font:italic bold 22.2px/25.508px 'Liberation Sans', sans-serif;color:#000;white-space:pre;">Presented by:</div>
<div style="position:absolute;left:-141.5px;width:2000px;text-align:center;top:1997.53px;font:normal normal 17.65px/20.280px 'Liberation Sans', sans-serif;color:#000;white-space:pre;">© 2017, Bay East Association of REALTORS®.  Reprinted by permission of Bay East Association of REALTORS®.</div>
<div style="position:absolute;left:-141.5px;width:2000px;text-align:center;top:2022.66px;font:normal normal 17.5px/20.108px 'Liberation Sans', sans-serif;color:#000;white-space:pre;">The Bay East Housing Reports are based in whole or in part on data supplied by the Bay East Association of REALTORS® or its Multiple Listing Service (MLS). Neither the Association nor</div>
<div style="position:absolute;left:-142px;width:2000px;text-align:center;top:2045.66px;font:normal normal 17.5px/20.108px 'Liberation Sans', sans-serif;color:#000;white-space:pre;">its MLS guarantees or is in any way responsible for its accuracy. Data maintained by the Association or its MLS may not reflect all real estate activity in the market. Due to late closings, an</div>
<div style="position:absolute;left:-144px;width:2000px;text-align:center;top:2069.16px;font:normal normal 17.5px/20.108px 'Liberation Sans', sans-serif;color:#000;white-space:pre;">adjustment is necessary to record those closings posted after our reporting date. Note that statistics released each month may be revised in the future as new data is received.</div>
</body></html>
